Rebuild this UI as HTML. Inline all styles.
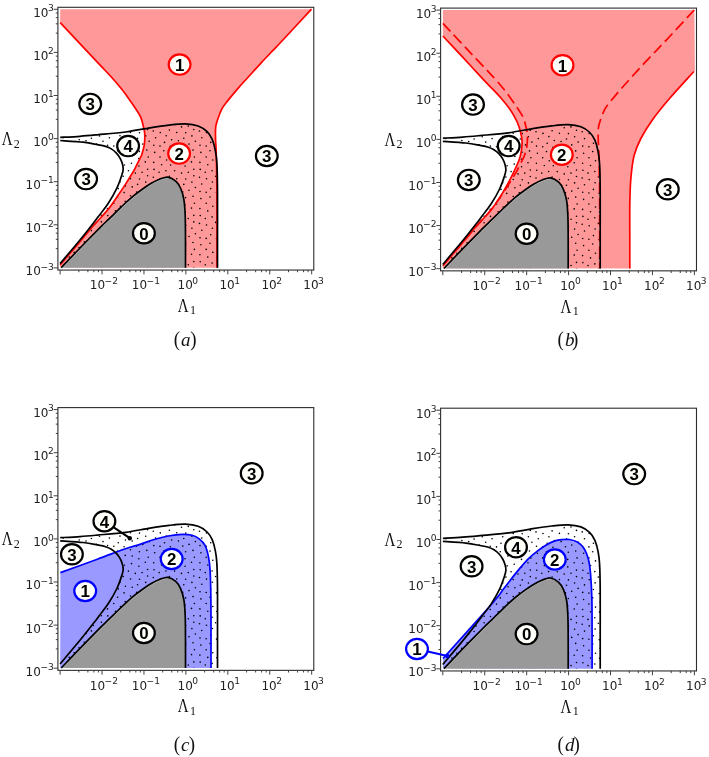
<!DOCTYPE html>
<html><head><meta charset="utf-8"><title>Figure</title>
<style>
html,body{margin:0;padding:0;background:#fff;}
svg{display:block;}
.ln{fill:none;stroke-width:1.7;stroke-linejoin:round;stroke-linecap:butt;}
.tk{font-family:"DejaVu Sans","Liberation Sans",sans-serif;font-size:12px;fill:#222;}
.sp{font-size:9.1px;}
.cn{font-family:"Liberation Sans",sans-serif;font-weight:bold;font-size:16.9px;text-anchor:middle;fill:#000;}
.ax{font-family:"Liberation Serif",serif;font-size:19px;fill:#111;}
.sb{font-family:"Liberation Serif",serif;font-size:12px;fill:#111;}
.cap{font-family:"Liberation Serif",serif;font-size:19px;fill:#111;}
</style></head><body>
<svg width="709" height="757" viewBox="0 0 709 757">
<rect width="709" height="757" fill="#fff"/>
<defs><g id="dots" fill="#000"><circle cx="42.9" cy="-126.6" r="0.8"/><circle cx="42.9" cy="-80.4" r="0.8"/><circle cx="42.9" cy="-34.2" r="0.8"/><circle cx="89.1" cy="-126.6" r="0.8"/><circle cx="89.1" cy="-80.4" r="0.8"/><circle cx="89.1" cy="-34.2" r="0.8"/><circle cx="135.3" cy="-126.6" r="0.8"/><circle cx="135.3" cy="-80.4" r="0.8"/><circle cx="135.3" cy="-34.2" r="0.8"/><circle cx="12.0" cy="-125.5" r="0.8"/><circle cx="12.0" cy="-79.3" r="0.8"/><circle cx="12.0" cy="-33.1" r="0.8"/><circle cx="58.2" cy="-125.5" r="0.8"/><circle cx="58.2" cy="-79.3" r="0.8"/><circle cx="58.2" cy="-33.1" r="0.8"/><circle cx="104.4" cy="-125.5" r="0.8"/><circle cx="104.4" cy="-79.3" r="0.8"/><circle cx="104.4" cy="-33.1" r="0.8"/><circle cx="150.6" cy="-125.5" r="0.8"/><circle cx="150.6" cy="-79.3" r="0.8"/><circle cx="150.6" cy="-33.1" r="0.8"/><circle cx="36.5" cy="-123.8" r="0.8"/><circle cx="36.5" cy="-77.6" r="0.8"/><circle cx="36.5" cy="-31.4" r="0.8"/><circle cx="82.7" cy="-123.8" r="0.8"/><circle cx="82.7" cy="-77.6" r="0.8"/><circle cx="82.7" cy="-31.4" r="0.8"/><circle cx="128.9" cy="-123.8" r="0.8"/><circle cx="128.9" cy="-77.6" r="0.8"/><circle cx="128.9" cy="-31.4" r="0.8"/><circle cx="1.3" cy="-122.6" r="0.8"/><circle cx="1.3" cy="-76.4" r="0.8"/><circle cx="1.3" cy="-30.2" r="0.8"/><circle cx="47.5" cy="-122.6" r="0.8"/><circle cx="47.5" cy="-76.4" r="0.8"/><circle cx="47.5" cy="-30.2" r="0.8"/><circle cx="93.7" cy="-122.6" r="0.8"/><circle cx="93.7" cy="-76.4" r="0.8"/><circle cx="93.7" cy="-30.2" r="0.8"/><circle cx="139.9" cy="-122.6" r="0.8"/><circle cx="139.9" cy="-76.4" r="0.8"/><circle cx="139.9" cy="-30.2" r="0.8"/><circle cx="7.5" cy="-121.9" r="0.8"/><circle cx="7.5" cy="-75.7" r="0.8"/><circle cx="7.5" cy="-29.5" r="0.8"/><circle cx="53.7" cy="-121.9" r="0.8"/><circle cx="53.7" cy="-75.7" r="0.8"/><circle cx="53.7" cy="-29.5" r="0.8"/><circle cx="99.9" cy="-121.9" r="0.8"/><circle cx="99.9" cy="-75.7" r="0.8"/><circle cx="99.9" cy="-29.5" r="0.8"/><circle cx="146.1" cy="-121.9" r="0.8"/><circle cx="146.1" cy="-75.7" r="0.8"/><circle cx="146.1" cy="-29.5" r="0.8"/><circle cx="40.5" cy="-117.8" r="0.8"/><circle cx="40.5" cy="-71.6" r="0.8"/><circle cx="40.5" cy="-25.4" r="0.8"/><circle cx="86.7" cy="-117.8" r="0.8"/><circle cx="86.7" cy="-71.6" r="0.8"/><circle cx="86.7" cy="-25.4" r="0.8"/><circle cx="132.9" cy="-117.8" r="0.8"/><circle cx="132.9" cy="-71.6" r="0.8"/><circle cx="132.9" cy="-25.4" r="0.8"/><circle cx="11.3" cy="-117.1" r="0.8"/><circle cx="11.3" cy="-70.9" r="0.8"/><circle cx="11.3" cy="-24.7" r="0.8"/><circle cx="57.5" cy="-117.1" r="0.8"/><circle cx="57.5" cy="-70.9" r="0.8"/><circle cx="57.5" cy="-24.7" r="0.8"/><circle cx="103.7" cy="-117.1" r="0.8"/><circle cx="103.7" cy="-70.9" r="0.8"/><circle cx="103.7" cy="-24.7" r="0.8"/><circle cx="149.9" cy="-117.1" r="0.8"/><circle cx="149.9" cy="-70.9" r="0.8"/><circle cx="149.9" cy="-24.7" r="0.8"/><circle cx="2.2" cy="-115.5" r="0.8"/><circle cx="2.2" cy="-69.3" r="0.8"/><circle cx="2.2" cy="-23.1" r="0.8"/><circle cx="48.4" cy="-115.5" r="0.8"/><circle cx="48.4" cy="-69.3" r="0.8"/><circle cx="48.4" cy="-23.1" r="0.8"/><circle cx="94.6" cy="-115.5" r="0.8"/><circle cx="94.6" cy="-69.3" r="0.8"/><circle cx="94.6" cy="-23.1" r="0.8"/><circle cx="140.8" cy="-115.5" r="0.8"/><circle cx="140.8" cy="-69.3" r="0.8"/><circle cx="140.8" cy="-23.1" r="0.8"/><circle cx="41.9" cy="-110.9" r="0.8"/><circle cx="41.9" cy="-64.7" r="0.8"/><circle cx="41.9" cy="-18.5" r="0.8"/><circle cx="88.1" cy="-110.9" r="0.8"/><circle cx="88.1" cy="-64.7" r="0.8"/><circle cx="88.1" cy="-18.5" r="0.8"/><circle cx="134.3" cy="-110.9" r="0.8"/><circle cx="134.3" cy="-64.7" r="0.8"/><circle cx="134.3" cy="-18.5" r="0.8"/><circle cx="7.5" cy="-110.9" r="0.8"/><circle cx="7.5" cy="-64.7" r="0.8"/><circle cx="7.5" cy="-18.5" r="0.8"/><circle cx="53.7" cy="-110.9" r="0.8"/><circle cx="53.7" cy="-64.7" r="0.8"/><circle cx="53.7" cy="-18.5" r="0.8"/><circle cx="99.9" cy="-110.9" r="0.8"/><circle cx="99.9" cy="-64.7" r="0.8"/><circle cx="99.9" cy="-18.5" r="0.8"/><circle cx="146.1" cy="-110.9" r="0.8"/><circle cx="146.1" cy="-64.7" r="0.8"/><circle cx="146.1" cy="-18.5" r="0.8"/><circle cx="14.1" cy="-107.9" r="0.8"/><circle cx="14.1" cy="-61.7" r="0.8"/><circle cx="14.1" cy="-15.5" r="0.8"/><circle cx="60.3" cy="-107.9" r="0.8"/><circle cx="60.3" cy="-61.7" r="0.8"/><circle cx="60.3" cy="-15.5" r="0.8"/><circle cx="106.5" cy="-107.9" r="0.8"/><circle cx="106.5" cy="-61.7" r="0.8"/><circle cx="106.5" cy="-15.5" r="0.8"/><circle cx="152.7" cy="-107.9" r="0.8"/><circle cx="152.7" cy="-61.7" r="0.8"/><circle cx="152.7" cy="-15.5" r="0.8"/><circle cx="39.0" cy="-106.0" r="0.8"/><circle cx="39.0" cy="-59.8" r="0.8"/><circle cx="39.0" cy="-13.6" r="0.8"/><circle cx="85.2" cy="-106.0" r="0.8"/><circle cx="85.2" cy="-59.8" r="0.8"/><circle cx="85.2" cy="-13.6" r="0.8"/><circle cx="131.4" cy="-106.0" r="0.8"/><circle cx="131.4" cy="-59.8" r="0.8"/><circle cx="131.4" cy="-13.6" r="0.8"/><circle cx="1.2" cy="-105.5" r="0.8"/><circle cx="1.2" cy="-59.3" r="0.8"/><circle cx="1.2" cy="-13.1" r="0.8"/><circle cx="47.4" cy="-105.5" r="0.8"/><circle cx="47.4" cy="-59.3" r="0.8"/><circle cx="47.4" cy="-13.1" r="0.8"/><circle cx="93.6" cy="-105.5" r="0.8"/><circle cx="93.6" cy="-59.3" r="0.8"/><circle cx="93.6" cy="-13.1" r="0.8"/><circle cx="139.8" cy="-105.5" r="0.8"/><circle cx="139.8" cy="-59.3" r="0.8"/><circle cx="139.8" cy="-13.1" r="0.8"/><circle cx="9.1" cy="-103.2" r="0.8"/><circle cx="9.1" cy="-57.0" r="0.8"/><circle cx="9.1" cy="-10.8" r="0.8"/><circle cx="55.3" cy="-103.2" r="0.8"/><circle cx="55.3" cy="-57.0" r="0.8"/><circle cx="55.3" cy="-10.8" r="0.8"/><circle cx="101.5" cy="-103.2" r="0.8"/><circle cx="101.5" cy="-57.0" r="0.8"/><circle cx="101.5" cy="-10.8" r="0.8"/><circle cx="147.7" cy="-103.2" r="0.8"/><circle cx="147.7" cy="-57.0" r="0.8"/><circle cx="147.7" cy="-10.8" r="0.8"/><circle cx="41.3" cy="-144.9" r="0.8"/><circle cx="41.3" cy="-98.7" r="0.8"/><circle cx="41.3" cy="-52.5" r="0.8"/><circle cx="41.3" cy="-6.3" r="0.8"/><circle cx="87.5" cy="-144.9" r="0.8"/><circle cx="87.5" cy="-98.7" r="0.8"/><circle cx="87.5" cy="-52.5" r="0.8"/><circle cx="87.5" cy="-6.3" r="0.8"/><circle cx="133.7" cy="-144.9" r="0.8"/><circle cx="133.7" cy="-98.7" r="0.8"/><circle cx="133.7" cy="-52.5" r="0.8"/><circle cx="133.7" cy="-6.3" r="0.8"/><circle cx="1.5" cy="-144.7" r="0.8"/><circle cx="1.5" cy="-98.5" r="0.8"/><circle cx="1.5" cy="-52.3" r="0.8"/><circle cx="1.5" cy="-6.1" r="0.8"/><circle cx="47.7" cy="-144.7" r="0.8"/><circle cx="47.7" cy="-98.5" r="0.8"/><circle cx="47.7" cy="-52.3" r="0.8"/><circle cx="47.7" cy="-6.1" r="0.8"/><circle cx="93.9" cy="-144.7" r="0.8"/><circle cx="93.9" cy="-98.5" r="0.8"/><circle cx="93.9" cy="-52.3" r="0.8"/><circle cx="93.9" cy="-6.1" r="0.8"/><circle cx="140.1" cy="-144.7" r="0.8"/><circle cx="140.1" cy="-98.5" r="0.8"/><circle cx="140.1" cy="-52.3" r="0.8"/><circle cx="140.1" cy="-6.1" r="0.8"/><circle cx="13.4" cy="-143.4" r="0.8"/><circle cx="13.4" cy="-97.2" r="0.8"/><circle cx="13.4" cy="-51.0" r="0.8"/><circle cx="13.4" cy="-4.8" r="0.8"/><circle cx="59.6" cy="-143.4" r="0.8"/><circle cx="59.6" cy="-97.2" r="0.8"/><circle cx="59.6" cy="-51.0" r="0.8"/><circle cx="59.6" cy="-4.8" r="0.8"/><circle cx="105.8" cy="-143.4" r="0.8"/><circle cx="105.8" cy="-97.2" r="0.8"/><circle cx="105.8" cy="-51.0" r="0.8"/><circle cx="105.8" cy="-4.8" r="0.8"/><circle cx="152.0" cy="-143.4" r="0.8"/><circle cx="152.0" cy="-97.2" r="0.8"/><circle cx="152.0" cy="-51.0" r="0.8"/><circle cx="152.0" cy="-4.8" r="0.8"/><circle cx="35.8" cy="-141.8" r="0.8"/><circle cx="35.8" cy="-95.6" r="0.8"/><circle cx="35.8" cy="-49.4" r="0.8"/><circle cx="35.8" cy="-3.2" r="0.8"/><circle cx="82.0" cy="-141.8" r="0.8"/><circle cx="82.0" cy="-95.6" r="0.8"/><circle cx="82.0" cy="-49.4" r="0.8"/><circle cx="82.0" cy="-3.2" r="0.8"/><circle cx="128.2" cy="-141.8" r="0.8"/><circle cx="128.2" cy="-95.6" r="0.8"/><circle cx="128.2" cy="-49.4" r="0.8"/><circle cx="128.2" cy="-3.2" r="0.8"/><circle cx="6.6" cy="-141.8" r="0.8"/><circle cx="6.6" cy="-95.6" r="0.8"/><circle cx="6.6" cy="-49.4" r="0.8"/><circle cx="6.6" cy="-3.2" r="0.8"/><circle cx="52.8" cy="-141.8" r="0.8"/><circle cx="52.8" cy="-95.6" r="0.8"/><circle cx="52.8" cy="-49.4" r="0.8"/><circle cx="52.8" cy="-3.2" r="0.8"/><circle cx="99.0" cy="-141.8" r="0.8"/><circle cx="99.0" cy="-95.6" r="0.8"/><circle cx="99.0" cy="-49.4" r="0.8"/><circle cx="99.0" cy="-3.2" r="0.8"/><circle cx="145.2" cy="-141.8" r="0.8"/><circle cx="145.2" cy="-95.6" r="0.8"/><circle cx="145.2" cy="-49.4" r="0.8"/><circle cx="145.2" cy="-3.2" r="0.8"/><circle cx="41.3" cy="-138.4" r="0.8"/><circle cx="41.3" cy="-92.2" r="0.8"/><circle cx="41.3" cy="-46.0" r="0.8"/><circle cx="41.3" cy="0.2" r="0.8"/><circle cx="87.5" cy="-138.4" r="0.8"/><circle cx="87.5" cy="-92.2" r="0.8"/><circle cx="87.5" cy="-46.0" r="0.8"/><circle cx="87.5" cy="0.2" r="0.8"/><circle cx="133.7" cy="-138.4" r="0.8"/><circle cx="133.7" cy="-92.2" r="0.8"/><circle cx="133.7" cy="-46.0" r="0.8"/><circle cx="133.7" cy="0.2" r="0.8"/><circle cx="16.9" cy="-137.9" r="0.8"/><circle cx="16.9" cy="-91.7" r="0.8"/><circle cx="16.9" cy="-45.5" r="0.8"/><circle cx="16.9" cy="0.7" r="0.8"/><circle cx="63.1" cy="-137.9" r="0.8"/><circle cx="63.1" cy="-91.7" r="0.8"/><circle cx="63.1" cy="-45.5" r="0.8"/><circle cx="63.1" cy="0.7" r="0.8"/><circle cx="109.3" cy="-137.9" r="0.8"/><circle cx="109.3" cy="-91.7" r="0.8"/><circle cx="109.3" cy="-45.5" r="0.8"/><circle cx="109.3" cy="0.7" r="0.8"/><circle cx="155.5" cy="-137.9" r="0.8"/><circle cx="155.5" cy="-91.7" r="0.8"/><circle cx="155.5" cy="-45.5" r="0.8"/><circle cx="155.5" cy="0.7" r="0.8"/><circle cx="0.8" cy="-136.9" r="0.8"/><circle cx="0.8" cy="-90.7" r="0.8"/><circle cx="0.8" cy="-44.5" r="0.8"/><circle cx="47.0" cy="-136.9" r="0.8"/><circle cx="47.0" cy="-90.7" r="0.8"/><circle cx="47.0" cy="-44.5" r="0.8"/><circle cx="93.2" cy="-136.9" r="0.8"/><circle cx="93.2" cy="-90.7" r="0.8"/><circle cx="93.2" cy="-44.5" r="0.8"/><circle cx="139.4" cy="-136.9" r="0.8"/><circle cx="139.4" cy="-90.7" r="0.8"/><circle cx="139.4" cy="-44.5" r="0.8"/><circle cx="7.8" cy="-135.3" r="0.8"/><circle cx="7.8" cy="-89.1" r="0.8"/><circle cx="7.8" cy="-42.9" r="0.8"/><circle cx="54.0" cy="-135.3" r="0.8"/><circle cx="54.0" cy="-89.1" r="0.8"/><circle cx="54.0" cy="-42.9" r="0.8"/><circle cx="100.2" cy="-135.3" r="0.8"/><circle cx="100.2" cy="-89.1" r="0.8"/><circle cx="100.2" cy="-42.9" r="0.8"/><circle cx="146.4" cy="-135.3" r="0.8"/><circle cx="146.4" cy="-89.1" r="0.8"/><circle cx="146.4" cy="-42.9" r="0.8"/><circle cx="39.4" cy="-132.0" r="0.8"/><circle cx="39.4" cy="-85.8" r="0.8"/><circle cx="39.4" cy="-39.6" r="0.8"/><circle cx="85.6" cy="-132.0" r="0.8"/><circle cx="85.6" cy="-85.8" r="0.8"/><circle cx="85.6" cy="-39.6" r="0.8"/><circle cx="131.8" cy="-132.0" r="0.8"/><circle cx="131.8" cy="-85.8" r="0.8"/><circle cx="131.8" cy="-39.6" r="0.8"/><circle cx="13.7" cy="-132.1" r="0.8"/><circle cx="13.7" cy="-85.9" r="0.8"/><circle cx="13.7" cy="-39.7" r="0.8"/><circle cx="59.9" cy="-132.1" r="0.8"/><circle cx="59.9" cy="-85.9" r="0.8"/><circle cx="59.9" cy="-39.7" r="0.8"/><circle cx="106.1" cy="-132.1" r="0.8"/><circle cx="106.1" cy="-85.9" r="0.8"/><circle cx="106.1" cy="-39.7" r="0.8"/><circle cx="152.3" cy="-132.1" r="0.8"/><circle cx="152.3" cy="-85.9" r="0.8"/><circle cx="152.3" cy="-39.7" r="0.8"/><circle cx="3.1" cy="-130.1" r="0.8"/><circle cx="3.1" cy="-83.9" r="0.8"/><circle cx="3.1" cy="-37.7" r="0.8"/><circle cx="49.3" cy="-130.1" r="0.8"/><circle cx="49.3" cy="-83.9" r="0.8"/><circle cx="49.3" cy="-37.7" r="0.8"/><circle cx="95.5" cy="-130.1" r="0.8"/><circle cx="95.5" cy="-83.9" r="0.8"/><circle cx="95.5" cy="-37.7" r="0.8"/><circle cx="141.7" cy="-130.1" r="0.8"/><circle cx="141.7" cy="-83.9" r="0.8"/><circle cx="141.7" cy="-37.7" r="0.8"/><circle cx="19.1" cy="-128.2" r="0.8"/><circle cx="19.1" cy="-82.0" r="0.8"/><circle cx="19.1" cy="-35.8" r="0.8"/><circle cx="65.3" cy="-128.2" r="0.8"/><circle cx="65.3" cy="-82.0" r="0.8"/><circle cx="65.3" cy="-35.8" r="0.8"/><circle cx="111.5" cy="-128.2" r="0.8"/><circle cx="111.5" cy="-82.0" r="0.8"/><circle cx="111.5" cy="-35.8" r="0.8"/><circle cx="157.7" cy="-128.2" r="0.8"/><circle cx="157.7" cy="-82.0" r="0.8"/><circle cx="157.7" cy="-35.8" r="0.8"/><circle cx="25.9" cy="-127.2" r="0.8"/><circle cx="25.9" cy="-81.0" r="0.8"/><circle cx="25.9" cy="-34.8" r="0.8"/><circle cx="72.1" cy="-127.2" r="0.8"/><circle cx="72.1" cy="-81.0" r="0.8"/><circle cx="72.1" cy="-34.8" r="0.8"/><circle cx="118.3" cy="-127.2" r="0.8"/><circle cx="118.3" cy="-81.0" r="0.8"/><circle cx="118.3" cy="-34.8" r="0.8"/><circle cx="31.3" cy="-129.7" r="0.8"/><circle cx="31.3" cy="-83.5" r="0.8"/><circle cx="31.3" cy="-37.3" r="0.8"/><circle cx="77.5" cy="-129.7" r="0.8"/><circle cx="77.5" cy="-83.5" r="0.8"/><circle cx="77.5" cy="-37.3" r="0.8"/><circle cx="123.7" cy="-129.7" r="0.8"/><circle cx="123.7" cy="-83.5" r="0.8"/><circle cx="123.7" cy="-37.3" r="0.8"/><circle cx="17.8" cy="-121.5" r="0.8"/><circle cx="17.8" cy="-75.3" r="0.8"/><circle cx="17.8" cy="-29.1" r="0.8"/><circle cx="64.0" cy="-121.5" r="0.8"/><circle cx="64.0" cy="-75.3" r="0.8"/><circle cx="64.0" cy="-29.1" r="0.8"/><circle cx="110.2" cy="-121.5" r="0.8"/><circle cx="110.2" cy="-75.3" r="0.8"/><circle cx="110.2" cy="-29.1" r="0.8"/><circle cx="156.4" cy="-121.5" r="0.8"/><circle cx="156.4" cy="-75.3" r="0.8"/><circle cx="156.4" cy="-29.1" r="0.8"/><circle cx="24.2" cy="-118.4" r="0.8"/><circle cx="24.2" cy="-72.2" r="0.8"/><circle cx="24.2" cy="-26.0" r="0.8"/><circle cx="70.4" cy="-118.4" r="0.8"/><circle cx="70.4" cy="-72.2" r="0.8"/><circle cx="70.4" cy="-26.0" r="0.8"/><circle cx="116.6" cy="-118.4" r="0.8"/><circle cx="116.6" cy="-72.2" r="0.8"/><circle cx="116.6" cy="-26.0" r="0.8"/><circle cx="33.1" cy="-116.5" r="0.8"/><circle cx="33.1" cy="-70.3" r="0.8"/><circle cx="33.1" cy="-24.1" r="0.8"/><circle cx="79.3" cy="-116.5" r="0.8"/><circle cx="79.3" cy="-70.3" r="0.8"/><circle cx="79.3" cy="-24.1" r="0.8"/><circle cx="125.5" cy="-116.5" r="0.8"/><circle cx="125.5" cy="-70.3" r="0.8"/><circle cx="125.5" cy="-24.1" r="0.8"/><circle cx="18.9" cy="-112.8" r="0.8"/><circle cx="18.9" cy="-66.6" r="0.8"/><circle cx="18.9" cy="-20.4" r="0.8"/><circle cx="65.1" cy="-112.8" r="0.8"/><circle cx="65.1" cy="-66.6" r="0.8"/><circle cx="65.1" cy="-20.4" r="0.8"/><circle cx="111.3" cy="-112.8" r="0.8"/><circle cx="111.3" cy="-66.6" r="0.8"/><circle cx="111.3" cy="-20.4" r="0.8"/><circle cx="157.5" cy="-112.8" r="0.8"/><circle cx="157.5" cy="-66.6" r="0.8"/><circle cx="157.5" cy="-20.4" r="0.8"/><circle cx="25.9" cy="-112.2" r="0.8"/><circle cx="25.9" cy="-66.0" r="0.8"/><circle cx="25.9" cy="-19.8" r="0.8"/><circle cx="72.1" cy="-112.2" r="0.8"/><circle cx="72.1" cy="-66.0" r="0.8"/><circle cx="72.1" cy="-19.8" r="0.8"/><circle cx="118.3" cy="-112.2" r="0.8"/><circle cx="118.3" cy="-66.0" r="0.8"/><circle cx="118.3" cy="-19.8" r="0.8"/><circle cx="32.5" cy="-109.4" r="0.8"/><circle cx="32.5" cy="-63.2" r="0.8"/><circle cx="32.5" cy="-17.0" r="0.8"/><circle cx="78.7" cy="-109.4" r="0.8"/><circle cx="78.7" cy="-63.2" r="0.8"/><circle cx="78.7" cy="-17.0" r="0.8"/><circle cx="124.9" cy="-109.4" r="0.8"/><circle cx="124.9" cy="-63.2" r="0.8"/><circle cx="124.9" cy="-17.0" r="0.8"/><circle cx="25.2" cy="-104.6" r="0.8"/><circle cx="25.2" cy="-58.4" r="0.8"/><circle cx="25.2" cy="-12.2" r="0.8"/><circle cx="71.4" cy="-104.6" r="0.8"/><circle cx="71.4" cy="-58.4" r="0.8"/><circle cx="71.4" cy="-12.2" r="0.8"/><circle cx="117.6" cy="-104.6" r="0.8"/><circle cx="117.6" cy="-58.4" r="0.8"/><circle cx="117.6" cy="-12.2" r="0.8"/><circle cx="18.1" cy="-102.9" r="0.8"/><circle cx="18.1" cy="-56.7" r="0.8"/><circle cx="18.1" cy="-10.5" r="0.8"/><circle cx="64.3" cy="-102.9" r="0.8"/><circle cx="64.3" cy="-56.7" r="0.8"/><circle cx="64.3" cy="-10.5" r="0.8"/><circle cx="110.5" cy="-102.9" r="0.8"/><circle cx="110.5" cy="-56.7" r="0.8"/><circle cx="110.5" cy="-10.5" r="0.8"/><circle cx="156.7" cy="-102.9" r="0.8"/><circle cx="156.7" cy="-56.7" r="0.8"/><circle cx="156.7" cy="-10.5" r="0.8"/><circle cx="32.6" cy="-101.9" r="0.8"/><circle cx="32.6" cy="-55.7" r="0.8"/><circle cx="32.6" cy="-9.5" r="0.8"/><circle cx="78.8" cy="-101.9" r="0.8"/><circle cx="78.8" cy="-55.7" r="0.8"/><circle cx="78.8" cy="-9.5" r="0.8"/><circle cx="125.0" cy="-101.9" r="0.8"/><circle cx="125.0" cy="-55.7" r="0.8"/><circle cx="125.0" cy="-9.5" r="0.8"/><circle cx="22.1" cy="-143.3" r="0.8"/><circle cx="22.1" cy="-97.1" r="0.8"/><circle cx="22.1" cy="-50.9" r="0.8"/><circle cx="22.1" cy="-4.7" r="0.8"/><circle cx="68.3" cy="-143.3" r="0.8"/><circle cx="68.3" cy="-97.1" r="0.8"/><circle cx="68.3" cy="-50.9" r="0.8"/><circle cx="68.3" cy="-4.7" r="0.8"/><circle cx="114.5" cy="-143.3" r="0.8"/><circle cx="114.5" cy="-97.1" r="0.8"/><circle cx="114.5" cy="-50.9" r="0.8"/><circle cx="114.5" cy="-4.7" r="0.8"/><circle cx="29.0" cy="-141.0" r="0.8"/><circle cx="29.0" cy="-94.8" r="0.8"/><circle cx="29.0" cy="-48.6" r="0.8"/><circle cx="29.0" cy="-2.4" r="0.8"/><circle cx="75.2" cy="-141.0" r="0.8"/><circle cx="75.2" cy="-94.8" r="0.8"/><circle cx="75.2" cy="-48.6" r="0.8"/><circle cx="75.2" cy="-2.4" r="0.8"/><circle cx="121.4" cy="-141.0" r="0.8"/><circle cx="121.4" cy="-94.8" r="0.8"/><circle cx="121.4" cy="-48.6" r="0.8"/><circle cx="121.4" cy="-2.4" r="0.8"/><circle cx="24.2" cy="-135.4" r="0.8"/><circle cx="24.2" cy="-89.2" r="0.8"/><circle cx="24.2" cy="-43.0" r="0.8"/><circle cx="70.4" cy="-135.4" r="0.8"/><circle cx="70.4" cy="-89.2" r="0.8"/><circle cx="70.4" cy="-43.0" r="0.8"/><circle cx="116.6" cy="-135.4" r="0.8"/><circle cx="116.6" cy="-89.2" r="0.8"/><circle cx="116.6" cy="-43.0" r="0.8"/><circle cx="33.2" cy="-135.1" r="0.8"/><circle cx="33.2" cy="-88.9" r="0.8"/><circle cx="33.2" cy="-42.7" r="0.8"/><circle cx="79.4" cy="-135.1" r="0.8"/><circle cx="79.4" cy="-88.9" r="0.8"/><circle cx="79.4" cy="-42.7" r="0.8"/><circle cx="125.6" cy="-135.1" r="0.8"/><circle cx="125.6" cy="-88.9" r="0.8"/><circle cx="125.6" cy="-42.7" r="0.8"/><circle cx="30.3" cy="-122.1" r="0.8"/><circle cx="30.3" cy="-75.9" r="0.8"/><circle cx="30.3" cy="-29.7" r="0.8"/><circle cx="76.5" cy="-122.1" r="0.8"/><circle cx="76.5" cy="-75.9" r="0.8"/><circle cx="76.5" cy="-29.7" r="0.8"/><circle cx="122.7" cy="-122.1" r="0.8"/><circle cx="122.7" cy="-75.9" r="0.8"/><circle cx="122.7" cy="-29.7" r="0.8"/></g></defs>
<g transform="translate(60.1,267.9)">
<path d="M0.1,-258.6 L251.57999999999998,-258.6 L251.40,-258.70 C246.63,-253.57 229.27,-234.82 222.80,-227.90 C216.33,-220.98 216.18,-220.97 212.60,-217.20 C209.02,-213.43 205.07,-209.35 201.30,-205.30 C197.53,-201.25 193.75,-197.03 190.00,-192.90 C186.25,-188.77 182.55,-184.82 178.80,-180.50 C175.05,-176.18 170.33,-170.57 167.50,-167.00 C164.67,-163.43 163.48,-162.28 161.80,-159.10 C160.12,-155.92 158.43,-150.95 157.40,-147.90 C156.37,-144.85 155.93,-143.78 155.60,-140.80 C155.27,-137.82 155.35,-133.38 155.40,-130.00 C155.45,-126.62 155.73,-124.77 155.90,-120.50 C156.07,-116.23 156.25,-111.33 156.40,-104.40 C156.55,-97.47 156.72,-89.98 156.80,-78.90 C156.88,-67.82 156.88,-51.03 156.90,-37.90 C156.92,-24.77 156.90,-6.40 156.90,-0.10 L0.1,-0.5 L0.00,-3.00 C3.38,-6.95 14.80,-20.22 20.30,-26.70 C25.80,-33.18 29.73,-38.12 33.00,-41.90 C36.27,-45.68 37.33,-46.55 39.90,-49.40 C42.47,-52.25 45.58,-55.43 48.40,-59.00 C51.22,-62.57 53.98,-66.72 56.80,-70.80 C59.62,-74.88 62.48,-79.12 65.30,-83.50 C68.12,-87.88 72.03,-94.32 73.70,-97.10 C75.37,-99.88 74.33,-98.27 75.30,-100.20 C76.27,-102.13 78.40,-106.40 79.50,-108.70 C80.60,-111.00 81.12,-111.58 81.90,-114.00 C82.68,-116.42 83.75,-119.82 84.20,-123.20 C84.65,-126.58 84.77,-131.22 84.60,-134.30 C84.43,-137.38 83.88,-138.92 83.20,-141.70 C82.52,-144.48 81.88,-147.92 80.50,-151.00 C79.12,-154.08 76.90,-157.12 74.90,-160.20 C72.90,-163.28 70.80,-166.30 68.50,-169.50 C66.20,-172.70 63.87,-175.95 61.10,-179.40 C58.33,-182.85 55.88,-185.80 51.90,-190.20 C47.92,-194.60 45.83,-196.62 37.20,-205.80 C28.57,-214.98 6.28,-238.72 0.10,-245.30 Z" fill="#ff9999"/>
<clipPath id="cpa"><path d="M0.10,-130.50 C3.40,-130.68 13.72,-131.17 19.90,-131.60 C26.08,-132.03 29.62,-132.38 37.20,-133.10 C44.78,-133.82 56.62,-134.73 65.40,-135.90 C74.18,-137.07 82.65,-138.95 89.90,-140.10 C97.15,-141.25 102.98,-142.15 108.90,-142.80 C114.82,-143.45 120.53,-144.15 125.40,-144.00 C130.27,-143.85 134.50,-143.20 138.10,-141.90 C141.70,-140.60 144.67,-138.43 147.00,-136.20 C149.33,-133.97 150.72,-131.68 152.10,-128.50 C153.48,-125.32 154.52,-121.12 155.30,-117.10 C156.08,-113.08 156.45,-110.77 156.80,-104.40 C157.15,-98.03 157.30,-89.98 157.40,-78.90 C157.50,-67.82 157.40,-51.03 157.40,-37.90 C157.40,-24.77 157.40,-6.40 157.40,-0.10 L0.1,-0.5 L0.00,-4.30 C3.38,-8.32 14.80,-21.72 20.30,-28.40 C25.80,-35.08 29.73,-40.22 33.00,-44.40 C36.27,-48.58 37.33,-50.08 39.90,-53.50 C42.47,-56.92 45.58,-60.53 48.40,-64.90 C51.22,-69.27 54.55,-74.97 56.80,-79.70 C59.05,-84.43 60.85,-90.10 61.90,-93.30 C62.95,-96.50 63.05,-97.07 63.10,-98.90 C63.15,-100.73 62.73,-102.48 62.20,-104.30 C61.67,-106.12 60.88,-108.05 59.90,-109.80 C58.92,-111.55 57.75,-113.27 56.30,-114.80 C54.85,-116.33 53.00,-117.88 51.20,-119.00 C49.40,-120.12 47.83,-120.78 45.50,-121.50 C43.17,-122.22 40.93,-122.60 37.20,-123.30 C33.47,-124.00 29.28,-125.02 23.10,-125.70 C16.92,-126.38 3.93,-127.12 0.10,-127.40 Z"/></clipPath>
<use href="#dots" clip-path="url(#cpa)"/>
<path d="M1.10,-0.20 C4.23,-3.48 13.43,-13.22 19.90,-19.90 C26.37,-26.58 35.15,-35.53 39.90,-40.30 C44.65,-45.07 45.58,-45.77 48.40,-48.50 C51.22,-51.23 53.98,-53.97 56.80,-56.70 C59.62,-59.43 62.48,-62.30 65.30,-64.90 C68.12,-67.50 70.88,-70.00 73.70,-72.30 C76.52,-74.60 79.37,-76.68 82.20,-78.70 C85.03,-80.72 87.75,-82.70 90.70,-84.40 C93.65,-86.10 97.03,-87.83 99.90,-88.90 C102.77,-89.97 105.23,-91.20 107.90,-90.80 C110.57,-90.40 113.78,-88.40 115.90,-86.50 C118.02,-84.60 119.28,-82.43 120.60,-79.40 C121.92,-76.37 123.05,-72.80 123.80,-68.30 C124.55,-63.80 124.83,-59.13 125.10,-52.40 C125.37,-45.67 125.35,-36.62 125.40,-27.90 C125.45,-19.18 125.40,-4.73 125.40,-0.10 L125.4,-0.15 L1.1,-0.15 Z" fill="#999999"/>
<path d="M1.10,-0.20 C4.23,-3.48 13.43,-13.22 19.90,-19.90 C26.37,-26.58 35.15,-35.53 39.90,-40.30 C44.65,-45.07 45.58,-45.77 48.40,-48.50 C51.22,-51.23 53.98,-53.97 56.80,-56.70 C59.62,-59.43 62.48,-62.30 65.30,-64.90 C68.12,-67.50 70.88,-70.00 73.70,-72.30 C76.52,-74.60 79.37,-76.68 82.20,-78.70 C85.03,-80.72 87.75,-82.70 90.70,-84.40 C93.65,-86.10 97.03,-87.83 99.90,-88.90 C102.77,-89.97 106.57,-90.48 107.90,-90.80" transform="translate(0.8,0.75)" fill="none" stroke="#d4d4d4" stroke-width="0.55"/>
<path d="M0.10,-245.30 C6.28,-238.72 28.57,-214.98 37.20,-205.80 C45.83,-196.62 47.92,-194.60 51.90,-190.20 C55.88,-185.80 58.33,-182.85 61.10,-179.40 C63.87,-175.95 66.20,-172.70 68.50,-169.50 C70.80,-166.30 72.90,-163.28 74.90,-160.20 C76.90,-157.12 79.12,-154.08 80.50,-151.00 C81.88,-147.92 82.52,-144.48 83.20,-141.70 C83.88,-138.92 84.43,-137.38 84.60,-134.30 C84.77,-131.22 84.65,-126.58 84.20,-123.20 C83.75,-119.82 82.68,-116.42 81.90,-114.00 C81.12,-111.58 80.60,-111.00 79.50,-108.70 C78.40,-106.40 76.27,-102.13 75.30,-100.20 C74.33,-98.27 75.37,-99.88 73.70,-97.10 C72.03,-94.32 68.12,-87.88 65.30,-83.50 C62.48,-79.12 59.62,-74.88 56.80,-70.80 C53.98,-66.72 51.22,-62.57 48.40,-59.00 C45.58,-55.43 42.47,-52.25 39.90,-49.40 C37.33,-46.55 36.27,-45.68 33.00,-41.90 C29.73,-38.12 25.80,-33.18 20.30,-26.70 C14.80,-20.22 3.38,-6.95 0.00,-3.00" class="ln" stroke="#ff0000"/>
<path d="M251.40,-258.70 C246.63,-253.57 229.27,-234.82 222.80,-227.90 C216.33,-220.98 216.18,-220.97 212.60,-217.20 C209.02,-213.43 205.07,-209.35 201.30,-205.30 C197.53,-201.25 193.75,-197.03 190.00,-192.90 C186.25,-188.77 182.55,-184.82 178.80,-180.50 C175.05,-176.18 170.33,-170.57 167.50,-167.00 C164.67,-163.43 163.48,-162.28 161.80,-159.10 C160.12,-155.92 158.43,-150.95 157.40,-147.90 C156.37,-144.85 155.93,-143.78 155.60,-140.80 C155.27,-137.82 155.35,-133.38 155.40,-130.00 C155.45,-126.62 155.73,-124.77 155.90,-120.50 C156.07,-116.23 156.25,-111.33 156.40,-104.40 C156.55,-97.47 156.72,-89.98 156.80,-78.90 C156.88,-67.82 156.88,-51.03 156.90,-37.90 C156.92,-24.77 156.90,-6.40 156.90,-0.10" class="ln" stroke="#ff0000"/>
<path d="M0.10,-130.50 C3.40,-130.68 13.72,-131.17 19.90,-131.60 C26.08,-132.03 29.62,-132.38 37.20,-133.10 C44.78,-133.82 56.62,-134.73 65.40,-135.90 C74.18,-137.07 82.65,-138.95 89.90,-140.10 C97.15,-141.25 102.98,-142.15 108.90,-142.80 C114.82,-143.45 120.53,-144.15 125.40,-144.00 C130.27,-143.85 134.50,-143.20 138.10,-141.90 C141.70,-140.60 144.67,-138.43 147.00,-136.20 C149.33,-133.97 150.72,-131.68 152.10,-128.50 C153.48,-125.32 154.52,-121.12 155.30,-117.10 C156.08,-113.08 156.45,-110.77 156.80,-104.40 C157.15,-98.03 157.30,-89.98 157.40,-78.90 C157.50,-67.82 157.40,-51.03 157.40,-37.90 C157.40,-24.77 157.40,-6.40 157.40,-0.10" class="ln" stroke="#000" stroke-width="1.75"/>
<path d="M0.10,-127.40 C3.93,-127.12 16.92,-126.38 23.10,-125.70 C29.28,-125.02 33.47,-124.00 37.20,-123.30 C40.93,-122.60 43.17,-122.22 45.50,-121.50 C47.83,-120.78 49.40,-120.12 51.20,-119.00 C53.00,-117.88 54.85,-116.33 56.30,-114.80 C57.75,-113.27 58.92,-111.55 59.90,-109.80 C60.88,-108.05 61.67,-106.12 62.20,-104.30 C62.73,-102.48 63.15,-100.73 63.10,-98.90 C63.05,-97.07 62.95,-96.50 61.90,-93.30 C60.85,-90.10 59.05,-84.43 56.80,-79.70 C54.55,-74.97 51.22,-69.27 48.40,-64.90 C45.58,-60.53 42.47,-56.92 39.90,-53.50 C37.33,-50.08 36.27,-48.58 33.00,-44.40 C29.73,-40.22 25.80,-35.08 20.30,-28.40 C14.80,-21.72 3.38,-8.32 0.00,-4.30" class="ln" stroke="#000" stroke-width="1.75"/>
<path d="M1.10,-0.20 C4.23,-3.48 13.43,-13.22 19.90,-19.90 C26.37,-26.58 35.15,-35.53 39.90,-40.30 C44.65,-45.07 45.58,-45.77 48.40,-48.50 C51.22,-51.23 53.98,-53.97 56.80,-56.70 C59.62,-59.43 62.48,-62.30 65.30,-64.90 C68.12,-67.50 70.88,-70.00 73.70,-72.30 C76.52,-74.60 79.37,-76.68 82.20,-78.70 C85.03,-80.72 87.75,-82.70 90.70,-84.40 C93.65,-86.10 97.03,-87.83 99.90,-88.90 C102.77,-89.97 105.23,-91.20 107.90,-90.80 C110.57,-90.40 113.78,-88.40 115.90,-86.50 C118.02,-84.60 119.28,-82.43 120.60,-79.40 C121.92,-76.37 123.05,-72.80 123.80,-68.30 C124.55,-63.80 124.83,-59.13 125.10,-52.40 C125.37,-45.67 125.35,-36.62 125.40,-27.90 C125.45,-19.18 125.40,-4.73 125.40,-0.10" class="ln" stroke="#000" stroke-width="1.65"/>
<rect x="-2.2" y="-260.60" width="255.88" height="262.75" fill="none" stroke="#2c2c2c" stroke-width="1.1"/>
<path d="M0.00,2 v4.5 M-2,0.00 h-4.5 M18.75,2 v2.3 M-2,-19.27 h-2.3 M27.79,2 v2.3 M-2,-28.56 h-2.3 M33.80,2 v2.3 M-2,-34.75 h-2.3 M38.32,2 v2.3 M-2,-39.39 h-2.3 M41.93,2 v4.5 M-2,-43.10 h-4.5 M60.68,2 v2.3 M-2,-62.37 h-2.3 M69.72,2 v2.3 M-2,-71.66 h-2.3 M75.73,2 v2.3 M-2,-77.85 h-2.3 M80.25,2 v2.3 M-2,-82.49 h-2.3 M83.86,2 v4.5 M-2,-86.20 h-4.5 M102.61,2 v2.3 M-2,-105.47 h-2.3 M111.65,2 v2.3 M-2,-114.76 h-2.3 M117.66,2 v2.3 M-2,-120.95 h-2.3 M122.18,2 v2.3 M-2,-125.59 h-2.3 M125.79,2 v4.5 M-2,-129.30 h-4.5 M144.54,2 v2.3 M-2,-148.57 h-2.3 M153.58,2 v2.3 M-2,-157.86 h-2.3 M159.59,2 v2.3 M-2,-164.05 h-2.3 M164.11,2 v2.3 M-2,-168.69 h-2.3 M167.72,2 v4.5 M-2,-172.40 h-4.5 M186.47,2 v2.3 M-2,-191.67 h-2.3 M195.51,2 v2.3 M-2,-200.96 h-2.3 M201.52,2 v2.3 M-2,-207.15 h-2.3 M206.04,2 v2.3 M-2,-211.79 h-2.3 M209.65,2 v4.5 M-2,-215.50 h-4.5 M228.40,2 v2.3 M-2,-234.77 h-2.3 M237.44,2 v2.3 M-2,-244.06 h-2.3 M243.45,2 v2.3 M-2,-250.25 h-2.3 M247.97,2 v2.3 M-2,-254.89 h-2.3 M251.58,2 v4.5 M-2,-258.60 h-4.5" stroke="#404040" stroke-width="1" fill="none"/>
<text x="-6.3" y="7.4" class="tk" text-anchor="end">10<tspan dx="-0.5" dy="-5.7" class="sp">−3</tspan></text>
<text x="43.8" y="21.4" class="tk" text-anchor="middle">10<tspan dx="-0.5" dy="-5.6" class="sp">−2</tspan></text>
<text x="-6.3" y="-35.7" class="tk" text-anchor="end">10<tspan dx="-0.5" dy="-5.7" class="sp">−2</tspan></text>
<text x="85.8" y="21.4" class="tk" text-anchor="middle">10<tspan dx="-0.5" dy="-5.6" class="sp">−1</tspan></text>
<text x="-6.3" y="-78.8" class="tk" text-anchor="end">10<tspan dx="-0.5" dy="-5.7" class="sp">−1</tspan></text>
<text x="127.7" y="21.4" class="tk" text-anchor="middle">10<tspan dx="-0.5" dy="-5.6" class="sp">0</tspan></text>
<text x="-6.3" y="-121.9" class="tk" text-anchor="end">10<tspan dx="-0.5" dy="-5.7" class="sp">0</tspan></text>
<text x="169.6" y="21.4" class="tk" text-anchor="middle">10<tspan dx="-0.5" dy="-5.6" class="sp">1</tspan></text>
<text x="-6.3" y="-165.0" class="tk" text-anchor="end">10<tspan dx="-0.5" dy="-5.7" class="sp">1</tspan></text>
<text x="211.6" y="21.4" class="tk" text-anchor="middle">10<tspan dx="-0.5" dy="-5.6" class="sp">2</tspan></text>
<text x="-6.3" y="-208.1" class="tk" text-anchor="end">10<tspan dx="-0.5" dy="-5.7" class="sp">2</tspan></text>
<text x="253.5" y="21.4" class="tk" text-anchor="middle">10<tspan dx="-0.5" dy="-5.6" class="sp">3</tspan></text>
<text x="-6.3" y="-251.2" class="tk" text-anchor="end">10<tspan dx="-0.5" dy="-5.7" class="sp">3</tspan></text>
<text transform="translate(117.6,43.8) scale(0.79,1)" class="ax">Λ</text><text x="129.9" y="46.5" class="sb">1</text>
<text transform="translate(-58.4,-122.8) scale(0.79,1)" class="ax">Λ</text><text x="-46.4" y="-120.4" class="sb">2</text>
</g>
<g transform="translate(442.8,268.7)">
<path d="M0.1,-258.6 L251.57999999999998,-258.6 L252.07999999999998,-197.2 L251.10,-197.20 C247.00,-192.65 233.40,-177.95 226.50,-169.90 C219.60,-161.85 214.48,-155.60 209.70,-148.90 C204.92,-142.20 200.88,-135.72 197.80,-129.70 C194.72,-123.68 192.83,-119.50 191.20,-112.80 C189.57,-106.10 188.70,-97.60 188.00,-89.50 C187.30,-81.40 187.17,-74.33 187.00,-64.20 C186.83,-54.07 187.00,-39.38 187.00,-28.70 C187.00,-18.02 187.00,-4.87 187.00,-0.10 L0.1,-0.5 L0.00,-3.00 C3.38,-6.95 14.80,-20.22 20.30,-26.70 C25.80,-33.18 29.73,-38.12 33.00,-41.90 C36.27,-45.68 37.33,-46.55 39.90,-49.40 C42.47,-52.25 45.58,-55.43 48.40,-59.00 C51.22,-62.57 53.93,-66.30 56.80,-70.80 C59.67,-75.30 63.08,-81.35 65.60,-86.00 C68.12,-90.65 70.12,-94.92 71.90,-98.70 C73.68,-102.48 75.25,-105.83 76.30,-108.70 C77.35,-111.57 77.70,-113.17 78.20,-115.90 C78.70,-118.63 79.23,-122.33 79.30,-125.10 C79.37,-127.87 79.10,-129.73 78.60,-132.50 C78.10,-135.27 77.37,-138.62 76.30,-141.70 C75.23,-144.78 73.82,-147.92 72.20,-151.00 C70.58,-154.08 68.77,-157.12 66.60,-160.20 C64.43,-163.28 61.82,-166.45 59.20,-169.50 C56.58,-172.55 54.15,-175.07 50.90,-178.50 C47.65,-181.93 44.87,-184.60 39.70,-190.10 C34.53,-195.60 26.50,-204.40 19.90,-211.50 C13.30,-218.60 3.40,-229.17 0.10,-232.70 Z" fill="#ff9999"/>
<clipPath id="cpb"><path d="M0.10,-130.50 C3.40,-130.68 13.72,-131.17 19.90,-131.60 C26.08,-132.03 29.62,-132.38 37.20,-133.10 C44.78,-133.82 56.62,-134.73 65.40,-135.90 C74.18,-137.07 82.65,-138.95 89.90,-140.10 C97.15,-141.25 102.98,-142.15 108.90,-142.80 C114.82,-143.45 120.53,-144.15 125.40,-144.00 C130.27,-143.85 134.50,-143.20 138.10,-141.90 C141.70,-140.60 144.67,-138.43 147.00,-136.20 C149.33,-133.97 150.72,-131.68 152.10,-128.50 C153.48,-125.32 154.52,-121.12 155.30,-117.10 C156.08,-113.08 156.45,-110.77 156.80,-104.40 C157.15,-98.03 157.30,-89.98 157.40,-78.90 C157.50,-67.82 157.40,-51.03 157.40,-37.90 C157.40,-24.77 157.40,-6.40 157.40,-0.10 L0.1,-0.5 L0.00,-4.30 C3.38,-8.32 14.80,-21.72 20.30,-28.40 C25.80,-35.08 29.73,-40.22 33.00,-44.40 C36.27,-48.58 37.33,-50.08 39.90,-53.50 C42.47,-56.92 45.58,-60.53 48.40,-64.90 C51.22,-69.27 54.55,-74.97 56.80,-79.70 C59.05,-84.43 60.85,-90.10 61.90,-93.30 C62.95,-96.50 63.05,-97.07 63.10,-98.90 C63.15,-100.73 62.73,-102.48 62.20,-104.30 C61.67,-106.12 60.88,-108.05 59.90,-109.80 C58.92,-111.55 57.75,-113.27 56.30,-114.80 C54.85,-116.33 53.00,-117.88 51.20,-119.00 C49.40,-120.12 47.83,-120.78 45.50,-121.50 C43.17,-122.22 40.93,-122.60 37.20,-123.30 C33.47,-124.00 29.28,-125.02 23.10,-125.70 C16.92,-126.38 3.93,-127.12 0.10,-127.40 Z"/></clipPath>
<use href="#dots" clip-path="url(#cpb)"/>
<path d="M1.10,-0.20 C4.23,-3.48 13.43,-13.22 19.90,-19.90 C26.37,-26.58 35.15,-35.53 39.90,-40.30 C44.65,-45.07 45.58,-45.77 48.40,-48.50 C51.22,-51.23 53.98,-53.97 56.80,-56.70 C59.62,-59.43 62.48,-62.30 65.30,-64.90 C68.12,-67.50 70.88,-70.00 73.70,-72.30 C76.52,-74.60 79.37,-76.68 82.20,-78.70 C85.03,-80.72 87.75,-82.70 90.70,-84.40 C93.65,-86.10 97.03,-87.83 99.90,-88.90 C102.77,-89.97 105.23,-91.20 107.90,-90.80 C110.57,-90.40 113.78,-88.40 115.90,-86.50 C118.02,-84.60 119.28,-82.43 120.60,-79.40 C121.92,-76.37 123.05,-72.80 123.80,-68.30 C124.55,-63.80 124.83,-59.13 125.10,-52.40 C125.37,-45.67 125.35,-36.62 125.40,-27.90 C125.45,-19.18 125.40,-4.73 125.40,-0.10 L125.4,-0.15 L1.1,-0.15 Z" fill="#999999"/>
<path d="M1.10,-0.20 C4.23,-3.48 13.43,-13.22 19.90,-19.90 C26.37,-26.58 35.15,-35.53 39.90,-40.30 C44.65,-45.07 45.58,-45.77 48.40,-48.50 C51.22,-51.23 53.98,-53.97 56.80,-56.70 C59.62,-59.43 62.48,-62.30 65.30,-64.90 C68.12,-67.50 70.88,-70.00 73.70,-72.30 C76.52,-74.60 79.37,-76.68 82.20,-78.70 C85.03,-80.72 87.75,-82.70 90.70,-84.40 C93.65,-86.10 97.03,-87.83 99.90,-88.90 C102.77,-89.97 106.57,-90.48 107.90,-90.80" transform="translate(0.8,0.75)" fill="none" stroke="#d4d4d4" stroke-width="0.55"/>
<path d="M0.10,-245.30 C6.28,-238.72 28.57,-214.98 37.20,-205.80 C45.83,-196.62 47.92,-194.60 51.90,-190.20 C55.88,-185.80 58.33,-182.85 61.10,-179.40 C63.87,-175.95 66.20,-172.70 68.50,-169.50 C70.80,-166.30 72.90,-163.28 74.90,-160.20 C76.90,-157.12 79.12,-154.08 80.50,-151.00 C81.88,-147.92 82.52,-144.48 83.20,-141.70 C83.88,-138.92 84.43,-137.38 84.60,-134.30 C84.77,-131.22 84.65,-126.58 84.20,-123.20 C83.75,-119.82 82.68,-116.42 81.90,-114.00 C81.12,-111.58 80.60,-111.00 79.50,-108.70 C78.40,-106.40 76.27,-102.13 75.30,-100.20 C74.33,-98.27 75.37,-99.88 73.70,-97.10 C72.03,-94.32 68.12,-87.88 65.30,-83.50 C62.48,-79.12 59.62,-74.88 56.80,-70.80 C53.98,-66.72 51.22,-62.57 48.40,-59.00 C45.58,-55.43 42.47,-52.25 39.90,-49.40 C37.33,-46.55 36.27,-45.68 33.00,-41.90 C29.73,-38.12 25.80,-33.18 20.30,-26.70 C14.80,-20.22 3.38,-6.95 0.00,-3.00" class="ln" stroke="#ff0000" stroke-dasharray="11 5" stroke-width="1.5"/>
<path d="M251.40,-258.70 C246.63,-253.57 229.27,-234.82 222.80,-227.90 C216.33,-220.98 216.18,-220.97 212.60,-217.20 C209.02,-213.43 205.07,-209.35 201.30,-205.30 C197.53,-201.25 193.75,-197.03 190.00,-192.90 C186.25,-188.77 182.55,-184.82 178.80,-180.50 C175.05,-176.18 170.33,-170.57 167.50,-167.00 C164.67,-163.43 163.48,-162.28 161.80,-159.10 C160.12,-155.92 158.43,-150.95 157.40,-147.90 C156.37,-144.85 155.93,-143.78 155.60,-140.80 C155.27,-137.82 155.35,-133.38 155.40,-130.00 C155.45,-126.62 155.73,-124.77 155.90,-120.50 C156.07,-116.23 156.25,-111.33 156.40,-104.40 C156.55,-97.47 156.72,-89.98 156.80,-78.90 C156.88,-67.82 156.88,-51.03 156.90,-37.90 C156.92,-24.77 156.90,-6.40 156.90,-0.10" class="ln" stroke="#ff0000" stroke-dasharray="11 5" stroke-width="1.5"/>
<path d="M0.10,-232.70 C3.40,-229.17 13.30,-218.60 19.90,-211.50 C26.50,-204.40 34.53,-195.60 39.70,-190.10 C44.87,-184.60 47.65,-181.93 50.90,-178.50 C54.15,-175.07 56.58,-172.55 59.20,-169.50 C61.82,-166.45 64.43,-163.28 66.60,-160.20 C68.77,-157.12 70.58,-154.08 72.20,-151.00 C73.82,-147.92 75.23,-144.78 76.30,-141.70 C77.37,-138.62 78.10,-135.27 78.60,-132.50 C79.10,-129.73 79.37,-127.87 79.30,-125.10 C79.23,-122.33 78.70,-118.63 78.20,-115.90 C77.70,-113.17 77.35,-111.57 76.30,-108.70 C75.25,-105.83 73.68,-102.48 71.90,-98.70 C70.12,-94.92 68.12,-90.65 65.60,-86.00 C63.08,-81.35 59.67,-75.30 56.80,-70.80 C53.93,-66.30 51.22,-62.57 48.40,-59.00 C45.58,-55.43 42.47,-52.25 39.90,-49.40 C37.33,-46.55 36.27,-45.68 33.00,-41.90 C29.73,-38.12 25.80,-33.18 20.30,-26.70 C14.80,-20.22 3.38,-6.95 0.00,-3.00" class="ln" stroke="#ff0000"/>
<path d="M251.10,-197.20 C247.00,-192.65 233.40,-177.95 226.50,-169.90 C219.60,-161.85 214.48,-155.60 209.70,-148.90 C204.92,-142.20 200.88,-135.72 197.80,-129.70 C194.72,-123.68 192.83,-119.50 191.20,-112.80 C189.57,-106.10 188.70,-97.60 188.00,-89.50 C187.30,-81.40 187.17,-74.33 187.00,-64.20 C186.83,-54.07 187.00,-39.38 187.00,-28.70 C187.00,-18.02 187.00,-4.87 187.00,-0.10" class="ln" stroke="#ff0000"/>
<path d="M0.10,-130.50 C3.40,-130.68 13.72,-131.17 19.90,-131.60 C26.08,-132.03 29.62,-132.38 37.20,-133.10 C44.78,-133.82 56.62,-134.73 65.40,-135.90 C74.18,-137.07 82.65,-138.95 89.90,-140.10 C97.15,-141.25 102.98,-142.15 108.90,-142.80 C114.82,-143.45 120.53,-144.15 125.40,-144.00 C130.27,-143.85 134.50,-143.20 138.10,-141.90 C141.70,-140.60 144.67,-138.43 147.00,-136.20 C149.33,-133.97 150.72,-131.68 152.10,-128.50 C153.48,-125.32 154.52,-121.12 155.30,-117.10 C156.08,-113.08 156.45,-110.77 156.80,-104.40 C157.15,-98.03 157.30,-89.98 157.40,-78.90 C157.50,-67.82 157.40,-51.03 157.40,-37.90 C157.40,-24.77 157.40,-6.40 157.40,-0.10" class="ln" stroke="#000" stroke-width="1.75"/>
<path d="M0.10,-127.40 C3.93,-127.12 16.92,-126.38 23.10,-125.70 C29.28,-125.02 33.47,-124.00 37.20,-123.30 C40.93,-122.60 43.17,-122.22 45.50,-121.50 C47.83,-120.78 49.40,-120.12 51.20,-119.00 C53.00,-117.88 54.85,-116.33 56.30,-114.80 C57.75,-113.27 58.92,-111.55 59.90,-109.80 C60.88,-108.05 61.67,-106.12 62.20,-104.30 C62.73,-102.48 63.15,-100.73 63.10,-98.90 C63.05,-97.07 62.95,-96.50 61.90,-93.30 C60.85,-90.10 59.05,-84.43 56.80,-79.70 C54.55,-74.97 51.22,-69.27 48.40,-64.90 C45.58,-60.53 42.47,-56.92 39.90,-53.50 C37.33,-50.08 36.27,-48.58 33.00,-44.40 C29.73,-40.22 25.80,-35.08 20.30,-28.40 C14.80,-21.72 3.38,-8.32 0.00,-4.30" class="ln" stroke="#000" stroke-width="1.75"/>
<path d="M1.10,-0.20 C4.23,-3.48 13.43,-13.22 19.90,-19.90 C26.37,-26.58 35.15,-35.53 39.90,-40.30 C44.65,-45.07 45.58,-45.77 48.40,-48.50 C51.22,-51.23 53.98,-53.97 56.80,-56.70 C59.62,-59.43 62.48,-62.30 65.30,-64.90 C68.12,-67.50 70.88,-70.00 73.70,-72.30 C76.52,-74.60 79.37,-76.68 82.20,-78.70 C85.03,-80.72 87.75,-82.70 90.70,-84.40 C93.65,-86.10 97.03,-87.83 99.90,-88.90 C102.77,-89.97 105.23,-91.20 107.90,-90.80 C110.57,-90.40 113.78,-88.40 115.90,-86.50 C118.02,-84.60 119.28,-82.43 120.60,-79.40 C121.92,-76.37 123.05,-72.80 123.80,-68.30 C124.55,-63.80 124.83,-59.13 125.10,-52.40 C125.37,-45.67 125.35,-36.62 125.40,-27.90 C125.45,-19.18 125.40,-4.73 125.40,-0.10" class="ln" stroke="#000" stroke-width="1.65"/>
<rect x="-2.2" y="-260.60" width="255.88" height="262.75" fill="none" stroke="#2c2c2c" stroke-width="1.1"/>
<path d="M0.00,2 v4.5 M-2,0.00 h-4.5 M18.75,2 v2.3 M-2,-19.27 h-2.3 M27.79,2 v2.3 M-2,-28.56 h-2.3 M33.80,2 v2.3 M-2,-34.75 h-2.3 M38.32,2 v2.3 M-2,-39.39 h-2.3 M41.93,2 v4.5 M-2,-43.10 h-4.5 M60.68,2 v2.3 M-2,-62.37 h-2.3 M69.72,2 v2.3 M-2,-71.66 h-2.3 M75.73,2 v2.3 M-2,-77.85 h-2.3 M80.25,2 v2.3 M-2,-82.49 h-2.3 M83.86,2 v4.5 M-2,-86.20 h-4.5 M102.61,2 v2.3 M-2,-105.47 h-2.3 M111.65,2 v2.3 M-2,-114.76 h-2.3 M117.66,2 v2.3 M-2,-120.95 h-2.3 M122.18,2 v2.3 M-2,-125.59 h-2.3 M125.79,2 v4.5 M-2,-129.30 h-4.5 M144.54,2 v2.3 M-2,-148.57 h-2.3 M153.58,2 v2.3 M-2,-157.86 h-2.3 M159.59,2 v2.3 M-2,-164.05 h-2.3 M164.11,2 v2.3 M-2,-168.69 h-2.3 M167.72,2 v4.5 M-2,-172.40 h-4.5 M186.47,2 v2.3 M-2,-191.67 h-2.3 M195.51,2 v2.3 M-2,-200.96 h-2.3 M201.52,2 v2.3 M-2,-207.15 h-2.3 M206.04,2 v2.3 M-2,-211.79 h-2.3 M209.65,2 v4.5 M-2,-215.50 h-4.5 M228.40,2 v2.3 M-2,-234.77 h-2.3 M237.44,2 v2.3 M-2,-244.06 h-2.3 M243.45,2 v2.3 M-2,-250.25 h-2.3 M247.97,2 v2.3 M-2,-254.89 h-2.3 M251.58,2 v4.5 M-2,-258.60 h-4.5" stroke="#404040" stroke-width="1" fill="none"/>
<text x="-6.3" y="7.4" class="tk" text-anchor="end">10<tspan dx="-0.5" dy="-5.7" class="sp">−3</tspan></text>
<text x="43.8" y="21.4" class="tk" text-anchor="middle">10<tspan dx="-0.5" dy="-5.6" class="sp">−2</tspan></text>
<text x="-6.3" y="-35.7" class="tk" text-anchor="end">10<tspan dx="-0.5" dy="-5.7" class="sp">−2</tspan></text>
<text x="85.8" y="21.4" class="tk" text-anchor="middle">10<tspan dx="-0.5" dy="-5.6" class="sp">−1</tspan></text>
<text x="-6.3" y="-78.8" class="tk" text-anchor="end">10<tspan dx="-0.5" dy="-5.7" class="sp">−1</tspan></text>
<text x="127.7" y="21.4" class="tk" text-anchor="middle">10<tspan dx="-0.5" dy="-5.6" class="sp">0</tspan></text>
<text x="-6.3" y="-121.9" class="tk" text-anchor="end">10<tspan dx="-0.5" dy="-5.7" class="sp">0</tspan></text>
<text x="169.6" y="21.4" class="tk" text-anchor="middle">10<tspan dx="-0.5" dy="-5.6" class="sp">1</tspan></text>
<text x="-6.3" y="-165.0" class="tk" text-anchor="end">10<tspan dx="-0.5" dy="-5.7" class="sp">1</tspan></text>
<text x="211.6" y="21.4" class="tk" text-anchor="middle">10<tspan dx="-0.5" dy="-5.6" class="sp">2</tspan></text>
<text x="-6.3" y="-208.1" class="tk" text-anchor="end">10<tspan dx="-0.5" dy="-5.7" class="sp">2</tspan></text>
<text x="253.5" y="21.4" class="tk" text-anchor="middle">10<tspan dx="-0.5" dy="-5.6" class="sp">3</tspan></text>
<text x="-6.3" y="-251.2" class="tk" text-anchor="end">10<tspan dx="-0.5" dy="-5.7" class="sp">3</tspan></text>
<text transform="translate(117.6,43.8) scale(0.79,1)" class="ax">Λ</text><text x="129.9" y="46.5" class="sb">1</text>
<text transform="translate(-58.4,-122.8) scale(0.79,1)" class="ax">Λ</text><text x="-46.4" y="-120.4" class="sb">2</text>
</g>
<g transform="translate(60.1,668.2)">
<path d="M0.30,-95.60 C6.45,-97.83 26.35,-105.02 37.20,-109.00 C48.05,-112.98 58.28,-117.03 65.40,-119.50 C72.52,-121.97 75.13,-122.27 79.90,-123.80 C84.67,-125.33 89.30,-127.30 94.00,-128.70 C98.70,-130.10 103.40,-131.33 108.10,-132.20 C112.80,-133.07 118.20,-133.78 122.20,-133.90 C126.20,-134.02 129.28,-133.65 132.10,-132.90 C134.92,-132.15 136.98,-131.03 139.10,-129.40 C141.22,-127.77 143.27,-126.03 144.80,-123.10 C146.33,-120.17 147.43,-116.03 148.30,-111.80 C149.17,-107.57 149.58,-104.97 150.00,-97.70 C150.42,-90.43 150.65,-79.78 150.80,-68.20 C150.95,-56.62 150.88,-39.55 150.90,-28.20 C150.92,-16.85 150.90,-4.78 150.90,-0.10 L0.1,-0.5 Z" fill="#9999ff"/>
<clipPath id="cpc"><path d="M0.10,-130.50 C3.40,-130.68 13.72,-131.17 19.90,-131.60 C26.08,-132.03 29.62,-132.38 37.20,-133.10 C44.78,-133.82 56.62,-134.73 65.40,-135.90 C74.18,-137.07 82.65,-138.95 89.90,-140.10 C97.15,-141.25 102.98,-142.15 108.90,-142.80 C114.82,-143.45 120.53,-144.15 125.40,-144.00 C130.27,-143.85 134.50,-143.20 138.10,-141.90 C141.70,-140.60 144.67,-138.43 147.00,-136.20 C149.33,-133.97 150.72,-131.68 152.10,-128.50 C153.48,-125.32 154.52,-121.12 155.30,-117.10 C156.08,-113.08 156.45,-110.77 156.80,-104.40 C157.15,-98.03 157.30,-89.98 157.40,-78.90 C157.50,-67.82 157.40,-51.03 157.40,-37.90 C157.40,-24.77 157.40,-6.40 157.40,-0.10 L0.1,-0.5 L0.00,-4.30 C3.38,-8.32 14.80,-21.72 20.30,-28.40 C25.80,-35.08 29.73,-40.22 33.00,-44.40 C36.27,-48.58 37.33,-50.08 39.90,-53.50 C42.47,-56.92 45.58,-60.53 48.40,-64.90 C51.22,-69.27 54.55,-74.97 56.80,-79.70 C59.05,-84.43 60.85,-90.10 61.90,-93.30 C62.95,-96.50 63.05,-97.07 63.10,-98.90 C63.15,-100.73 62.73,-102.48 62.20,-104.30 C61.67,-106.12 60.88,-108.05 59.90,-109.80 C58.92,-111.55 57.75,-113.27 56.30,-114.80 C54.85,-116.33 53.00,-117.88 51.20,-119.00 C49.40,-120.12 47.83,-120.78 45.50,-121.50 C43.17,-122.22 40.93,-122.60 37.20,-123.30 C33.47,-124.00 29.28,-125.02 23.10,-125.70 C16.92,-126.38 3.93,-127.12 0.10,-127.40 Z"/></clipPath>
<use href="#dots" clip-path="url(#cpc)"/>
<path d="M1.10,-0.20 C4.23,-3.48 13.43,-13.22 19.90,-19.90 C26.37,-26.58 35.15,-35.53 39.90,-40.30 C44.65,-45.07 45.58,-45.77 48.40,-48.50 C51.22,-51.23 53.98,-53.97 56.80,-56.70 C59.62,-59.43 62.48,-62.30 65.30,-64.90 C68.12,-67.50 70.88,-70.00 73.70,-72.30 C76.52,-74.60 79.37,-76.68 82.20,-78.70 C85.03,-80.72 87.75,-82.70 90.70,-84.40 C93.65,-86.10 97.03,-87.83 99.90,-88.90 C102.77,-89.97 105.23,-91.20 107.90,-90.80 C110.57,-90.40 113.78,-88.40 115.90,-86.50 C118.02,-84.60 119.28,-82.43 120.60,-79.40 C121.92,-76.37 123.05,-72.80 123.80,-68.30 C124.55,-63.80 124.83,-59.13 125.10,-52.40 C125.37,-45.67 125.35,-36.62 125.40,-27.90 C125.45,-19.18 125.40,-4.73 125.40,-0.10 L125.4,-0.15 L1.1,-0.15 Z" fill="#999999"/>
<path d="M1.10,-0.20 C4.23,-3.48 13.43,-13.22 19.90,-19.90 C26.37,-26.58 35.15,-35.53 39.90,-40.30 C44.65,-45.07 45.58,-45.77 48.40,-48.50 C51.22,-51.23 53.98,-53.97 56.80,-56.70 C59.62,-59.43 62.48,-62.30 65.30,-64.90 C68.12,-67.50 70.88,-70.00 73.70,-72.30 C76.52,-74.60 79.37,-76.68 82.20,-78.70 C85.03,-80.72 87.75,-82.70 90.70,-84.40 C93.65,-86.10 97.03,-87.83 99.90,-88.90 C102.77,-89.97 106.57,-90.48 107.90,-90.80" transform="translate(0.8,0.75)" fill="none" stroke="#d4d4d4" stroke-width="0.55"/>
<path d="M0.30,-95.60 C6.45,-97.83 26.35,-105.02 37.20,-109.00 C48.05,-112.98 58.28,-117.03 65.40,-119.50 C72.52,-121.97 75.13,-122.27 79.90,-123.80 C84.67,-125.33 89.30,-127.30 94.00,-128.70 C98.70,-130.10 103.40,-131.33 108.10,-132.20 C112.80,-133.07 118.20,-133.78 122.20,-133.90 C126.20,-134.02 129.28,-133.65 132.10,-132.90 C134.92,-132.15 136.98,-131.03 139.10,-129.40 C141.22,-127.77 143.27,-126.03 144.80,-123.10 C146.33,-120.17 147.43,-116.03 148.30,-111.80 C149.17,-107.57 149.58,-104.97 150.00,-97.70 C150.42,-90.43 150.65,-79.78 150.80,-68.20 C150.95,-56.62 150.88,-39.55 150.90,-28.20 C150.92,-16.85 150.90,-4.78 150.90,-0.10" class="ln" stroke="#0000ff"/>
<path d="M0.10,-130.50 C3.40,-130.68 13.72,-131.17 19.90,-131.60 C26.08,-132.03 29.62,-132.38 37.20,-133.10 C44.78,-133.82 56.62,-134.73 65.40,-135.90 C74.18,-137.07 82.65,-138.95 89.90,-140.10 C97.15,-141.25 102.98,-142.15 108.90,-142.80 C114.82,-143.45 120.53,-144.15 125.40,-144.00 C130.27,-143.85 134.50,-143.20 138.10,-141.90 C141.70,-140.60 144.67,-138.43 147.00,-136.20 C149.33,-133.97 150.72,-131.68 152.10,-128.50 C153.48,-125.32 154.52,-121.12 155.30,-117.10 C156.08,-113.08 156.45,-110.77 156.80,-104.40 C157.15,-98.03 157.30,-89.98 157.40,-78.90 C157.50,-67.82 157.40,-51.03 157.40,-37.90 C157.40,-24.77 157.40,-6.40 157.40,-0.10" class="ln" stroke="#000" stroke-width="1.45"/>
<path d="M0.10,-127.40 C3.93,-127.12 16.92,-126.38 23.10,-125.70 C29.28,-125.02 33.47,-124.00 37.20,-123.30 C40.93,-122.60 43.17,-122.22 45.50,-121.50 C47.83,-120.78 49.40,-120.12 51.20,-119.00 C53.00,-117.88 54.85,-116.33 56.30,-114.80 C57.75,-113.27 58.92,-111.55 59.90,-109.80 C60.88,-108.05 61.67,-106.12 62.20,-104.30 C62.73,-102.48 63.15,-100.73 63.10,-98.90 C63.05,-97.07 62.95,-96.50 61.90,-93.30 C60.85,-90.10 59.05,-84.43 56.80,-79.70 C54.55,-74.97 51.22,-69.27 48.40,-64.90 C45.58,-60.53 42.47,-56.92 39.90,-53.50 C37.33,-50.08 36.27,-48.58 33.00,-44.40 C29.73,-40.22 25.80,-35.08 20.30,-28.40 C14.80,-21.72 3.38,-8.32 0.00,-4.30" class="ln" stroke="#000" stroke-width="1.45"/>
<path d="M1.10,-0.20 C4.23,-3.48 13.43,-13.22 19.90,-19.90 C26.37,-26.58 35.15,-35.53 39.90,-40.30 C44.65,-45.07 45.58,-45.77 48.40,-48.50 C51.22,-51.23 53.98,-53.97 56.80,-56.70 C59.62,-59.43 62.48,-62.30 65.30,-64.90 C68.12,-67.50 70.88,-70.00 73.70,-72.30 C76.52,-74.60 79.37,-76.68 82.20,-78.70 C85.03,-80.72 87.75,-82.70 90.70,-84.40 C93.65,-86.10 97.03,-87.83 99.90,-88.90 C102.77,-89.97 105.23,-91.20 107.90,-90.80 C110.57,-90.40 113.78,-88.40 115.90,-86.50 C118.02,-84.60 119.28,-82.43 120.60,-79.40 C121.92,-76.37 123.05,-72.80 123.80,-68.30 C124.55,-63.80 124.83,-59.13 125.10,-52.40 C125.37,-45.67 125.35,-36.62 125.40,-27.90 C125.45,-19.18 125.40,-4.73 125.40,-0.10" class="ln" stroke="#000" stroke-width="1.35"/>
<rect x="-2.2" y="-260.60" width="255.88" height="262.75" fill="none" stroke="#2c2c2c" stroke-width="1.1"/>
<path d="M0.00,2 v4.5 M-2,0.00 h-4.5 M18.75,2 v2.3 M-2,-19.27 h-2.3 M27.79,2 v2.3 M-2,-28.56 h-2.3 M33.80,2 v2.3 M-2,-34.75 h-2.3 M38.32,2 v2.3 M-2,-39.39 h-2.3 M41.93,2 v4.5 M-2,-43.10 h-4.5 M60.68,2 v2.3 M-2,-62.37 h-2.3 M69.72,2 v2.3 M-2,-71.66 h-2.3 M75.73,2 v2.3 M-2,-77.85 h-2.3 M80.25,2 v2.3 M-2,-82.49 h-2.3 M83.86,2 v4.5 M-2,-86.20 h-4.5 M102.61,2 v2.3 M-2,-105.47 h-2.3 M111.65,2 v2.3 M-2,-114.76 h-2.3 M117.66,2 v2.3 M-2,-120.95 h-2.3 M122.18,2 v2.3 M-2,-125.59 h-2.3 M125.79,2 v4.5 M-2,-129.30 h-4.5 M144.54,2 v2.3 M-2,-148.57 h-2.3 M153.58,2 v2.3 M-2,-157.86 h-2.3 M159.59,2 v2.3 M-2,-164.05 h-2.3 M164.11,2 v2.3 M-2,-168.69 h-2.3 M167.72,2 v4.5 M-2,-172.40 h-4.5 M186.47,2 v2.3 M-2,-191.67 h-2.3 M195.51,2 v2.3 M-2,-200.96 h-2.3 M201.52,2 v2.3 M-2,-207.15 h-2.3 M206.04,2 v2.3 M-2,-211.79 h-2.3 M209.65,2 v4.5 M-2,-215.50 h-4.5 M228.40,2 v2.3 M-2,-234.77 h-2.3 M237.44,2 v2.3 M-2,-244.06 h-2.3 M243.45,2 v2.3 M-2,-250.25 h-2.3 M247.97,2 v2.3 M-2,-254.89 h-2.3 M251.58,2 v4.5 M-2,-258.60 h-4.5" stroke="#404040" stroke-width="1" fill="none"/>
<text x="-6.3" y="7.4" class="tk" text-anchor="end">10<tspan dx="-0.5" dy="-5.7" class="sp">−3</tspan></text>
<text x="43.8" y="21.4" class="tk" text-anchor="middle">10<tspan dx="-0.5" dy="-5.6" class="sp">−2</tspan></text>
<text x="-6.3" y="-35.7" class="tk" text-anchor="end">10<tspan dx="-0.5" dy="-5.7" class="sp">−2</tspan></text>
<text x="85.8" y="21.4" class="tk" text-anchor="middle">10<tspan dx="-0.5" dy="-5.6" class="sp">−1</tspan></text>
<text x="-6.3" y="-78.8" class="tk" text-anchor="end">10<tspan dx="-0.5" dy="-5.7" class="sp">−1</tspan></text>
<text x="127.7" y="21.4" class="tk" text-anchor="middle">10<tspan dx="-0.5" dy="-5.6" class="sp">0</tspan></text>
<text x="-6.3" y="-121.9" class="tk" text-anchor="end">10<tspan dx="-0.5" dy="-5.7" class="sp">0</tspan></text>
<text x="169.6" y="21.4" class="tk" text-anchor="middle">10<tspan dx="-0.5" dy="-5.6" class="sp">1</tspan></text>
<text x="-6.3" y="-165.0" class="tk" text-anchor="end">10<tspan dx="-0.5" dy="-5.7" class="sp">1</tspan></text>
<text x="211.6" y="21.4" class="tk" text-anchor="middle">10<tspan dx="-0.5" dy="-5.6" class="sp">2</tspan></text>
<text x="-6.3" y="-208.1" class="tk" text-anchor="end">10<tspan dx="-0.5" dy="-5.7" class="sp">2</tspan></text>
<text x="253.5" y="21.4" class="tk" text-anchor="middle">10<tspan dx="-0.5" dy="-5.6" class="sp">3</tspan></text>
<text x="-6.3" y="-251.2" class="tk" text-anchor="end">10<tspan dx="-0.5" dy="-5.7" class="sp">3</tspan></text>
<text transform="translate(117.6,43.8) scale(0.79,1)" class="ax">Λ</text><text x="129.9" y="46.5" class="sb">1</text>
<text transform="translate(-58.4,-122.8) scale(0.79,1)" class="ax">Λ</text><text x="-46.4" y="-120.4" class="sb">2</text>
</g>
<g transform="translate(442.8,668.8)">
<path d="M0.20,-10.30 C7.60,-18.55 35.92,-50.05 44.60,-59.80 C53.28,-69.55 50.33,-66.47 52.30,-68.80 C54.27,-71.13 55.00,-71.98 56.40,-73.80 C57.80,-75.62 58.58,-76.88 60.70,-79.70 C62.82,-82.52 66.28,-87.12 69.10,-90.70 C71.92,-94.28 74.78,-97.90 77.60,-101.20 C80.42,-104.50 83.18,-107.75 86.00,-110.50 C88.82,-113.25 91.67,-115.52 94.50,-117.70 C97.33,-119.88 100.05,-121.90 103.00,-123.60 C105.95,-125.30 109.50,-126.97 112.20,-127.90 C114.90,-128.83 116.80,-128.97 119.20,-129.20 C121.60,-129.43 123.97,-129.75 126.60,-129.30 C129.23,-128.85 132.53,-128.03 135.00,-126.50 C137.47,-124.97 139.63,-122.92 141.40,-120.10 C143.17,-117.28 144.55,-113.70 145.60,-109.60 C146.65,-105.50 147.12,-102.30 147.70,-95.50 C148.28,-88.70 148.83,-79.92 149.10,-68.80 C149.37,-57.68 149.27,-40.25 149.30,-28.80 C149.33,-17.35 149.30,-4.88 149.30,-0.10 L0.1,-0.5 Z" fill="#9999ff"/>
<clipPath id="cpd"><path d="M0.10,-130.50 C3.40,-130.68 13.72,-131.17 19.90,-131.60 C26.08,-132.03 29.62,-132.38 37.20,-133.10 C44.78,-133.82 56.62,-134.73 65.40,-135.90 C74.18,-137.07 82.65,-138.95 89.90,-140.10 C97.15,-141.25 102.98,-142.15 108.90,-142.80 C114.82,-143.45 120.53,-144.15 125.40,-144.00 C130.27,-143.85 134.50,-143.20 138.10,-141.90 C141.70,-140.60 144.67,-138.43 147.00,-136.20 C149.33,-133.97 150.72,-131.68 152.10,-128.50 C153.48,-125.32 154.52,-121.12 155.30,-117.10 C156.08,-113.08 156.45,-110.77 156.80,-104.40 C157.15,-98.03 157.30,-89.98 157.40,-78.90 C157.50,-67.82 157.40,-51.03 157.40,-37.90 C157.40,-24.77 157.40,-6.40 157.40,-0.10 L0.1,-0.5 L0.00,-4.30 C3.38,-8.32 14.80,-21.72 20.30,-28.40 C25.80,-35.08 29.73,-40.22 33.00,-44.40 C36.27,-48.58 37.33,-50.08 39.90,-53.50 C42.47,-56.92 45.58,-60.53 48.40,-64.90 C51.22,-69.27 54.55,-74.97 56.80,-79.70 C59.05,-84.43 60.85,-90.10 61.90,-93.30 C62.95,-96.50 63.05,-97.07 63.10,-98.90 C63.15,-100.73 62.73,-102.48 62.20,-104.30 C61.67,-106.12 60.88,-108.05 59.90,-109.80 C58.92,-111.55 57.75,-113.27 56.30,-114.80 C54.85,-116.33 53.00,-117.88 51.20,-119.00 C49.40,-120.12 47.83,-120.78 45.50,-121.50 C43.17,-122.22 40.93,-122.60 37.20,-123.30 C33.47,-124.00 29.28,-125.02 23.10,-125.70 C16.92,-126.38 3.93,-127.12 0.10,-127.40 Z"/></clipPath>
<use href="#dots" clip-path="url(#cpd)"/>
<path d="M1.10,-0.20 C4.23,-3.48 13.43,-13.22 19.90,-19.90 C26.37,-26.58 35.15,-35.53 39.90,-40.30 C44.65,-45.07 45.58,-45.77 48.40,-48.50 C51.22,-51.23 53.98,-53.97 56.80,-56.70 C59.62,-59.43 62.48,-62.30 65.30,-64.90 C68.12,-67.50 70.88,-70.00 73.70,-72.30 C76.52,-74.60 79.37,-76.68 82.20,-78.70 C85.03,-80.72 87.75,-82.70 90.70,-84.40 C93.65,-86.10 97.03,-87.83 99.90,-88.90 C102.77,-89.97 105.23,-91.20 107.90,-90.80 C110.57,-90.40 113.78,-88.40 115.90,-86.50 C118.02,-84.60 119.28,-82.43 120.60,-79.40 C121.92,-76.37 123.05,-72.80 123.80,-68.30 C124.55,-63.80 124.83,-59.13 125.10,-52.40 C125.37,-45.67 125.35,-36.62 125.40,-27.90 C125.45,-19.18 125.40,-4.73 125.40,-0.10 L125.4,-0.15 L1.1,-0.15 Z" fill="#999999"/>
<path d="M1.10,-0.20 C4.23,-3.48 13.43,-13.22 19.90,-19.90 C26.37,-26.58 35.15,-35.53 39.90,-40.30 C44.65,-45.07 45.58,-45.77 48.40,-48.50 C51.22,-51.23 53.98,-53.97 56.80,-56.70 C59.62,-59.43 62.48,-62.30 65.30,-64.90 C68.12,-67.50 70.88,-70.00 73.70,-72.30 C76.52,-74.60 79.37,-76.68 82.20,-78.70 C85.03,-80.72 87.75,-82.70 90.70,-84.40 C93.65,-86.10 97.03,-87.83 99.90,-88.90 C102.77,-89.97 106.57,-90.48 107.90,-90.80" transform="translate(0.8,0.75)" fill="none" stroke="#d4d4d4" stroke-width="0.55"/>
<path d="M0.20,-10.30 C7.60,-18.55 35.92,-50.05 44.60,-59.80 C53.28,-69.55 50.33,-66.47 52.30,-68.80 C54.27,-71.13 55.00,-71.98 56.40,-73.80 C57.80,-75.62 58.58,-76.88 60.70,-79.70 C62.82,-82.52 66.28,-87.12 69.10,-90.70 C71.92,-94.28 74.78,-97.90 77.60,-101.20 C80.42,-104.50 83.18,-107.75 86.00,-110.50 C88.82,-113.25 91.67,-115.52 94.50,-117.70 C97.33,-119.88 100.05,-121.90 103.00,-123.60 C105.95,-125.30 109.50,-126.97 112.20,-127.90 C114.90,-128.83 116.80,-128.97 119.20,-129.20 C121.60,-129.43 123.97,-129.75 126.60,-129.30 C129.23,-128.85 132.53,-128.03 135.00,-126.50 C137.47,-124.97 139.63,-122.92 141.40,-120.10 C143.17,-117.28 144.55,-113.70 145.60,-109.60 C146.65,-105.50 147.12,-102.30 147.70,-95.50 C148.28,-88.70 148.83,-79.92 149.10,-68.80 C149.37,-57.68 149.27,-40.25 149.30,-28.80 C149.33,-17.35 149.30,-4.88 149.30,-0.10" class="ln" stroke="#0000ff"/>
<path d="M0.10,-130.50 C3.40,-130.68 13.72,-131.17 19.90,-131.60 C26.08,-132.03 29.62,-132.38 37.20,-133.10 C44.78,-133.82 56.62,-134.73 65.40,-135.90 C74.18,-137.07 82.65,-138.95 89.90,-140.10 C97.15,-141.25 102.98,-142.15 108.90,-142.80 C114.82,-143.45 120.53,-144.15 125.40,-144.00 C130.27,-143.85 134.50,-143.20 138.10,-141.90 C141.70,-140.60 144.67,-138.43 147.00,-136.20 C149.33,-133.97 150.72,-131.68 152.10,-128.50 C153.48,-125.32 154.52,-121.12 155.30,-117.10 C156.08,-113.08 156.45,-110.77 156.80,-104.40 C157.15,-98.03 157.30,-89.98 157.40,-78.90 C157.50,-67.82 157.40,-51.03 157.40,-37.90 C157.40,-24.77 157.40,-6.40 157.40,-0.10" class="ln" stroke="#000" stroke-width="1.45"/>
<path d="M0.10,-127.40 C3.93,-127.12 16.92,-126.38 23.10,-125.70 C29.28,-125.02 33.47,-124.00 37.20,-123.30 C40.93,-122.60 43.17,-122.22 45.50,-121.50 C47.83,-120.78 49.40,-120.12 51.20,-119.00 C53.00,-117.88 54.85,-116.33 56.30,-114.80 C57.75,-113.27 58.92,-111.55 59.90,-109.80 C60.88,-108.05 61.67,-106.12 62.20,-104.30 C62.73,-102.48 63.15,-100.73 63.10,-98.90 C63.05,-97.07 62.95,-96.50 61.90,-93.30 C60.85,-90.10 59.05,-84.43 56.80,-79.70 C54.55,-74.97 51.22,-69.27 48.40,-64.90 C45.58,-60.53 42.47,-56.92 39.90,-53.50 C37.33,-50.08 36.27,-48.58 33.00,-44.40 C29.73,-40.22 25.80,-35.08 20.30,-28.40 C14.80,-21.72 3.38,-8.32 0.00,-4.30" class="ln" stroke="#000" stroke-width="1.45"/>
<path d="M1.10,-0.20 C4.23,-3.48 13.43,-13.22 19.90,-19.90 C26.37,-26.58 35.15,-35.53 39.90,-40.30 C44.65,-45.07 45.58,-45.77 48.40,-48.50 C51.22,-51.23 53.98,-53.97 56.80,-56.70 C59.62,-59.43 62.48,-62.30 65.30,-64.90 C68.12,-67.50 70.88,-70.00 73.70,-72.30 C76.52,-74.60 79.37,-76.68 82.20,-78.70 C85.03,-80.72 87.75,-82.70 90.70,-84.40 C93.65,-86.10 97.03,-87.83 99.90,-88.90 C102.77,-89.97 105.23,-91.20 107.90,-90.80 C110.57,-90.40 113.78,-88.40 115.90,-86.50 C118.02,-84.60 119.28,-82.43 120.60,-79.40 C121.92,-76.37 123.05,-72.80 123.80,-68.30 C124.55,-63.80 124.83,-59.13 125.10,-52.40 C125.37,-45.67 125.35,-36.62 125.40,-27.90 C125.45,-19.18 125.40,-4.73 125.40,-0.10" class="ln" stroke="#000" stroke-width="1.35"/>
<rect x="-2.2" y="-260.60" width="255.88" height="262.75" fill="none" stroke="#2c2c2c" stroke-width="1.1"/>
<path d="M0.00,2 v4.5 M-2,0.00 h-4.5 M18.75,2 v2.3 M-2,-19.27 h-2.3 M27.79,2 v2.3 M-2,-28.56 h-2.3 M33.80,2 v2.3 M-2,-34.75 h-2.3 M38.32,2 v2.3 M-2,-39.39 h-2.3 M41.93,2 v4.5 M-2,-43.10 h-4.5 M60.68,2 v2.3 M-2,-62.37 h-2.3 M69.72,2 v2.3 M-2,-71.66 h-2.3 M75.73,2 v2.3 M-2,-77.85 h-2.3 M80.25,2 v2.3 M-2,-82.49 h-2.3 M83.86,2 v4.5 M-2,-86.20 h-4.5 M102.61,2 v2.3 M-2,-105.47 h-2.3 M111.65,2 v2.3 M-2,-114.76 h-2.3 M117.66,2 v2.3 M-2,-120.95 h-2.3 M122.18,2 v2.3 M-2,-125.59 h-2.3 M125.79,2 v4.5 M-2,-129.30 h-4.5 M144.54,2 v2.3 M-2,-148.57 h-2.3 M153.58,2 v2.3 M-2,-157.86 h-2.3 M159.59,2 v2.3 M-2,-164.05 h-2.3 M164.11,2 v2.3 M-2,-168.69 h-2.3 M167.72,2 v4.5 M-2,-172.40 h-4.5 M186.47,2 v2.3 M-2,-191.67 h-2.3 M195.51,2 v2.3 M-2,-200.96 h-2.3 M201.52,2 v2.3 M-2,-207.15 h-2.3 M206.04,2 v2.3 M-2,-211.79 h-2.3 M209.65,2 v4.5 M-2,-215.50 h-4.5 M228.40,2 v2.3 M-2,-234.77 h-2.3 M237.44,2 v2.3 M-2,-244.06 h-2.3 M243.45,2 v2.3 M-2,-250.25 h-2.3 M247.97,2 v2.3 M-2,-254.89 h-2.3 M251.58,2 v4.5 M-2,-258.60 h-4.5" stroke="#404040" stroke-width="1" fill="none"/>
<text x="-6.3" y="7.4" class="tk" text-anchor="end">10<tspan dx="-0.5" dy="-5.7" class="sp">−3</tspan></text>
<text x="43.8" y="21.4" class="tk" text-anchor="middle">10<tspan dx="-0.5" dy="-5.6" class="sp">−2</tspan></text>
<text x="-6.3" y="-35.7" class="tk" text-anchor="end">10<tspan dx="-0.5" dy="-5.7" class="sp">−2</tspan></text>
<text x="85.8" y="21.4" class="tk" text-anchor="middle">10<tspan dx="-0.5" dy="-5.6" class="sp">−1</tspan></text>
<text x="-6.3" y="-78.8" class="tk" text-anchor="end">10<tspan dx="-0.5" dy="-5.7" class="sp">−1</tspan></text>
<text x="127.7" y="21.4" class="tk" text-anchor="middle">10<tspan dx="-0.5" dy="-5.6" class="sp">0</tspan></text>
<text x="-6.3" y="-121.9" class="tk" text-anchor="end">10<tspan dx="-0.5" dy="-5.7" class="sp">0</tspan></text>
<text x="169.6" y="21.4" class="tk" text-anchor="middle">10<tspan dx="-0.5" dy="-5.6" class="sp">1</tspan></text>
<text x="-6.3" y="-165.0" class="tk" text-anchor="end">10<tspan dx="-0.5" dy="-5.7" class="sp">1</tspan></text>
<text x="211.6" y="21.4" class="tk" text-anchor="middle">10<tspan dx="-0.5" dy="-5.6" class="sp">2</tspan></text>
<text x="-6.3" y="-208.1" class="tk" text-anchor="end">10<tspan dx="-0.5" dy="-5.7" class="sp">2</tspan></text>
<text x="253.5" y="21.4" class="tk" text-anchor="middle">10<tspan dx="-0.5" dy="-5.6" class="sp">3</tspan></text>
<text x="-6.3" y="-251.2" class="tk" text-anchor="end">10<tspan dx="-0.5" dy="-5.7" class="sp">3</tspan></text>
<text transform="translate(117.6,43.8) scale(0.79,1)" class="ax">Λ</text><text x="129.9" y="46.5" class="sb">1</text>
<text transform="translate(-58.4,-122.8) scale(0.79,1)" class="ax">Λ</text><text x="-46.4" y="-120.4" class="sb">2</text>
</g>
<text transform="translate(173.7,345.7) scale(1,1.11)" class="cap">(</text><text x="181.0" y="345.7" class="cap" font-style="italic">a</text><text transform="translate(190.2,345.7) scale(1,1.11)" class="cap">)</text>
<text transform="translate(557.4,345.6) scale(1,1.11)" class="cap">(</text><text x="564.9" y="345.6" class="cap" font-style="italic">b</text><text transform="translate(572.1,345.6) scale(1,1.11)" class="cap">)</text>
<text transform="translate(173.7,750.9) scale(1,1.11)" class="cap">(</text><text x="181.0" y="750.9" class="cap" font-style="italic">c</text><text transform="translate(188.7,750.9) scale(1,1.11)" class="cap">)</text>
<text transform="translate(557.4,750.7) scale(1,1.11)" class="cap">(</text><text x="564.9" y="750.7" class="cap" font-style="italic">d</text><text transform="translate(573.4,750.7) scale(1,1.11)" class="cap">)</text>
<ellipse cx="179.6" cy="64.6" rx="10.9" ry="10.15" fill="#fffffa" stroke="#f00" stroke-width="2.2"/><text x="179.6" y="70.9" class="cn">1</text>
<ellipse cx="90.2" cy="103.9" rx="10.9" ry="10.15" fill="#fffffa" stroke="#000" stroke-width="2.2"/><text x="90.2" y="110.2" class="cn">3</text>
<ellipse cx="128.1" cy="146.1" rx="10.9" ry="10.15" fill="#fffffa" stroke="#000" stroke-width="2.2"/><text x="128.1" y="152.4" class="cn">4</text>
<ellipse cx="86.1" cy="179.1" rx="10.9" ry="10.15" fill="#fffffa" stroke="#000" stroke-width="2.2"/><text x="86.1" y="185.4" class="cn">3</text>
<ellipse cx="179.1" cy="153.6" rx="10.9" ry="10.15" fill="#fffffa" stroke="#f00" stroke-width="2.2"/><text x="179.1" y="159.9" class="cn">2</text>
<ellipse cx="266.8" cy="156.0" rx="10.9" ry="10.15" fill="#fffffa" stroke="#000" stroke-width="2.2"/><text x="266.8" y="162.3" class="cn">3</text>
<ellipse cx="143.9" cy="233.2" rx="10.9" ry="10.15" fill="#fffffa" stroke="#000" stroke-width="2.2"/><text x="143.9" y="239.5" class="cn">0</text>
<ellipse cx="562.5" cy="65.2" rx="10.9" ry="10.15" fill="#fffffa" stroke="#f00" stroke-width="2.2"/><text x="562.5" y="71.5" class="cn">1</text>
<ellipse cx="473.0" cy="104.6" rx="10.9" ry="10.15" fill="#fffffa" stroke="#000" stroke-width="2.2"/><text x="473.0" y="110.9" class="cn">3</text>
<ellipse cx="508.7" cy="146.1" rx="10.9" ry="10.15" fill="#fffffa" stroke="#000" stroke-width="2.2"/><text x="508.7" y="152.4" class="cn">4</text>
<ellipse cx="468.8" cy="179.9" rx="10.9" ry="10.15" fill="#fffffa" stroke="#000" stroke-width="2.2"/><text x="468.8" y="186.2" class="cn">3</text>
<ellipse cx="561.8" cy="154.7" rx="10.9" ry="10.15" fill="#fffffa" stroke="#f00" stroke-width="2.2"/><text x="561.8" y="161.0" class="cn">2</text>
<ellipse cx="667.8" cy="189.3" rx="10.9" ry="10.15" fill="#fffffa" stroke="#000" stroke-width="2.2"/><text x="667.8" y="195.6" class="cn">3</text>
<ellipse cx="526.6" cy="233.7" rx="10.9" ry="10.15" fill="#fffffa" stroke="#000" stroke-width="2.2"/><text x="526.6" y="240.0" class="cn">0</text>
<path d="M104.4,521.2 L129.8,538.2" stroke="#000" stroke-width="2"/><circle cx="129.8" cy="538.2" r="2.2"/>
<ellipse cx="104.4" cy="521.2" rx="10.9" ry="10.15" fill="#fffffa" stroke="#000" stroke-width="2.2"/><text x="104.4" y="527.5" class="cn">4</text>
<ellipse cx="71.9" cy="554.3" rx="10.9" ry="10.15" fill="#fffffa" stroke="#000" stroke-width="2.2"/><text x="71.9" y="560.6" class="cn">3</text>
<ellipse cx="85.2" cy="591.0" rx="10.9" ry="10.15" fill="#fffffa" stroke="#00f" stroke-width="2.2"/><text x="85.2" y="597.3" class="cn">1</text>
<ellipse cx="171.7" cy="559.0" rx="10.9" ry="10.15" fill="#fffffa" stroke="#00f" stroke-width="2.2"/><text x="171.7" y="565.3" class="cn">2</text>
<ellipse cx="251.7" cy="473.3" rx="10.9" ry="10.15" fill="#fffffa" stroke="#000" stroke-width="2.2"/><text x="251.7" y="479.6" class="cn">3</text>
<ellipse cx="143.9" cy="633.0" rx="10.9" ry="10.15" fill="#fffffa" stroke="#000" stroke-width="2.2"/><text x="143.9" y="639.3" class="cn">0</text>
<path d="M417,649 L447.3,656" stroke="#00f" stroke-width="2"/><circle cx="447.3" cy="656" r="2.2" fill="#00f"/>
<ellipse cx="417.0" cy="649.0" rx="10.9" ry="10.15" fill="#fffffa" stroke="#00f" stroke-width="2.2"/><text x="417.0" y="655.3" class="cn">1</text>
<ellipse cx="516.0" cy="547.2" rx="10.9" ry="10.15" fill="#fffffa" stroke="#000" stroke-width="2.2"/><text x="516.0" y="553.5" class="cn">4</text>
<ellipse cx="471.6" cy="566.3" rx="10.9" ry="10.15" fill="#fffffa" stroke="#000" stroke-width="2.2"/><text x="471.6" y="572.6" class="cn">3</text>
<ellipse cx="554.8" cy="559.5" rx="10.9" ry="10.15" fill="#fffffa" stroke="#00f" stroke-width="2.2"/><text x="554.8" y="565.8" class="cn">2</text>
<ellipse cx="634.2" cy="474.1" rx="10.9" ry="10.15" fill="#fffffa" stroke="#000" stroke-width="2.2"/><text x="634.2" y="480.4" class="cn">3</text>
<ellipse cx="526.6" cy="634.1" rx="10.9" ry="10.15" fill="#fffffa" stroke="#000" stroke-width="2.2"/><text x="526.6" y="640.4" class="cn">0</text>
</svg>
</body></html>
